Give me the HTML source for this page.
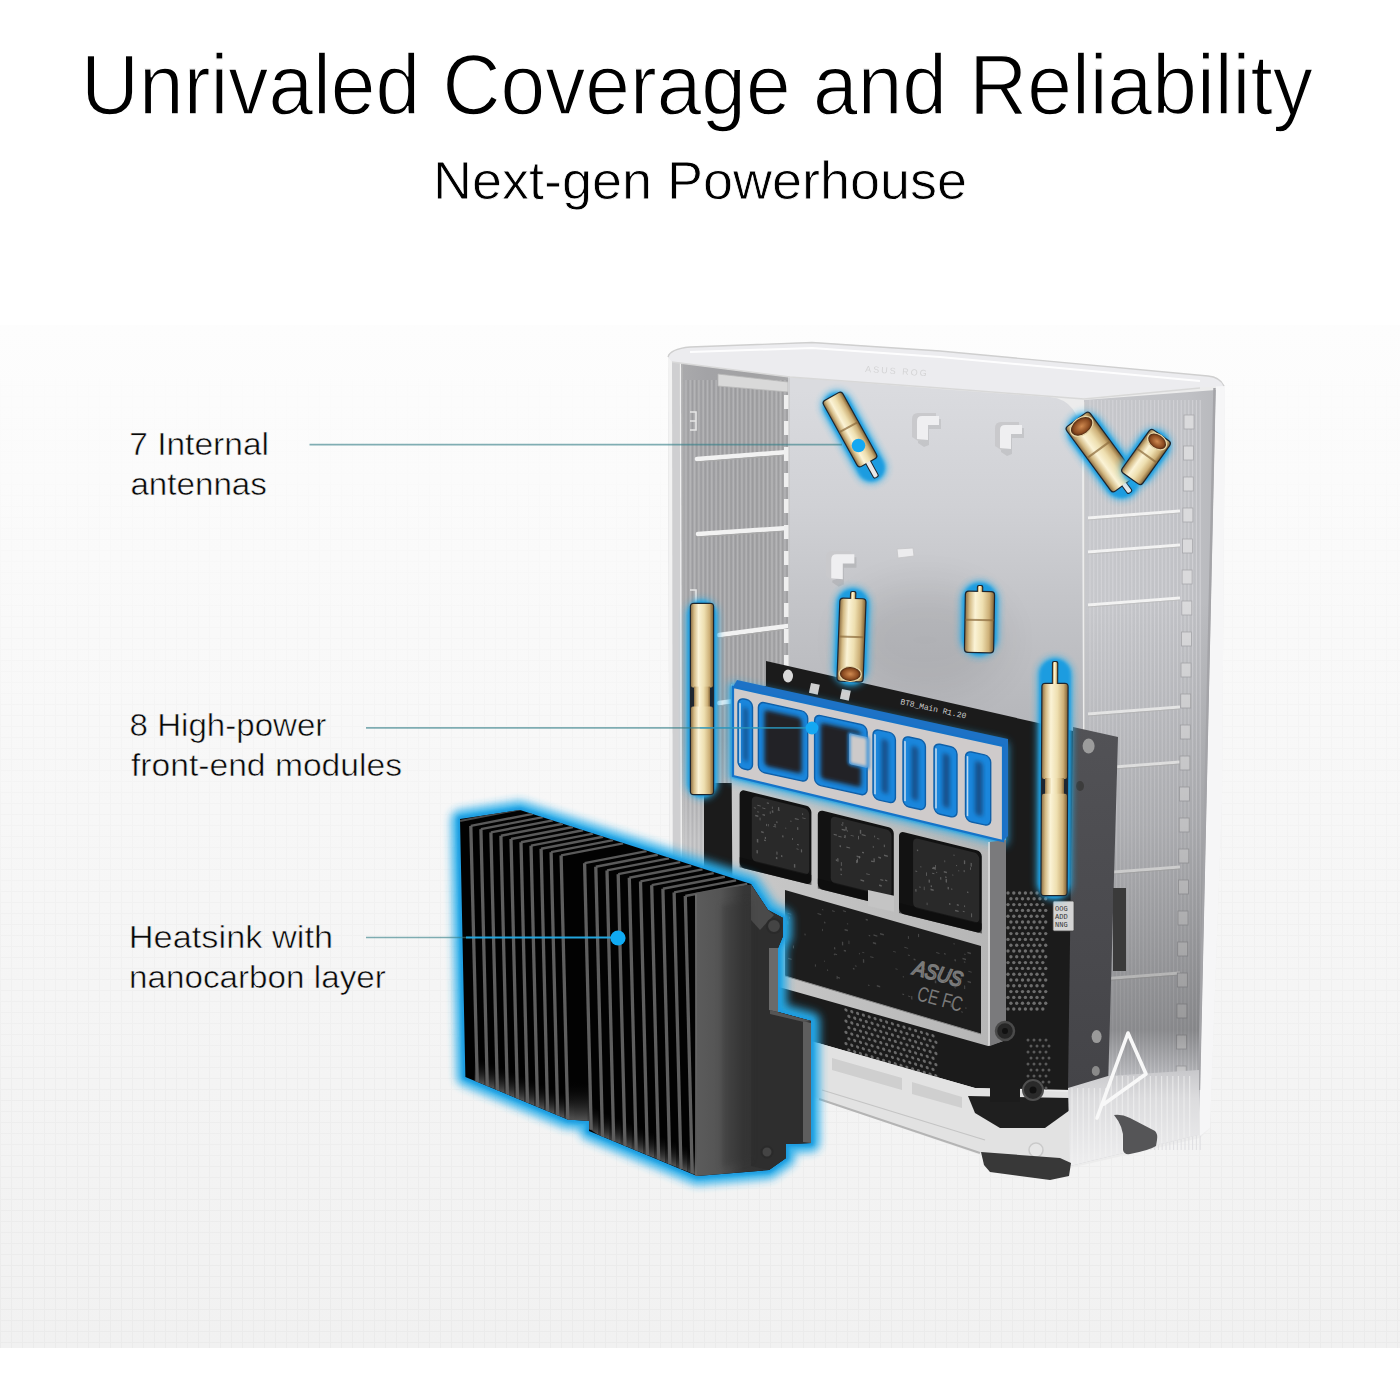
<!DOCTYPE html>
<html><head><meta charset="utf-8"><title>Unrivaled Coverage and Reliability</title>
<style>html,body{margin:0;padding:0;background:#fff;}body{width:1400px;height:1400px;overflow:hidden;}svg{display:block;}</style>
</head><body>
<svg width="1400" height="1400" viewBox="0 0 1400 1400">

<defs>
 <linearGradient id="bgG" x1="0" y1="0" x2="0" y2="1">
  <stop offset="0" stop-color="#fdfdfd"/>
  <stop offset="0.3" stop-color="#f9f9f9"/>
  <stop offset="1" stop-color="#f1f1f1"/>
 </linearGradient>
 <pattern id="grid" width="11" height="11" patternUnits="userSpaceOnUse">
  <path d="M0 0.5H11M0.5 0V11" stroke="#dcdcdc" stroke-width="1" fill="none"/>
 </pattern>
 <linearGradient id="gridFade" x1="0" y1="0" x2="0" y2="1">
  <stop offset="0" stop-color="#fff" stop-opacity="0"/>
  <stop offset="0.3" stop-color="#fff" stop-opacity="0.08"/>
  <stop offset="1" stop-color="#fff" stop-opacity="0.3"/>
 </linearGradient>
 <mask id="gridMask"><rect x="0" y="325" width="1400" height="1023" fill="url(#gridFade)"/></mask>
 <linearGradient id="gold" x1="0" y1="0" x2="1" y2="0">
  <stop offset="0" stop-color="#94764a"/>
  <stop offset="0.14" stop-color="#d4bb86"/>
  <stop offset="0.34" stop-color="#fbf3d6"/>
  <stop offset="0.6" stop-color="#eedfb0"/>
  <stop offset="0.84" stop-color="#cdb078"/>
  <stop offset="1" stop-color="#86683a"/>
 </linearGradient>
 <radialGradient id="copper" cx="0.5" cy="0.5" r="0.5">
  <stop offset="0" stop-color="#d08a50"/>
  <stop offset="0.7" stop-color="#8a4a20"/>
  <stop offset="1" stop-color="#3a2010"/>
 </radialGradient>
 <linearGradient id="leftWall" x1="0" y1="0" x2="1" y2="0">
  <stop offset="0" stop-color="#acacae"/>
  <stop offset="0.3" stop-color="#a3a3a6"/>
  <stop offset="0.7" stop-color="#a2a2a4"/>
  <stop offset="1" stop-color="#a8a8aa"/>
 </linearGradient>
 <linearGradient id="backPanel" gradientUnits="userSpaceOnUse" x1="0" y1="390" x2="0" y2="720">
  <stop offset="0" stop-color="#dadbdf"/>
  <stop offset="0.35" stop-color="#d0d1d5"/>
  <stop offset="0.7" stop-color="#c1c2c6"/>
  <stop offset="1" stop-color="#b6b7bb"/>
 </linearGradient>
 <linearGradient id="rightWall" x1="0" y1="0" x2="1" y2="0">
  <stop offset="0" stop-color="#c8c9cd"/>
  <stop offset="0.8" stop-color="#c0c1c5"/>
  <stop offset="1" stop-color="#b8b9bd"/>
 </linearGradient>
 <linearGradient id="plate" x1="0" y1="0" x2="1" y2="0">
  <stop offset="0" stop-color="#5c5c5c"/>
  <stop offset="0.22" stop-color="#545454"/>
  <stop offset="0.42" stop-color="#363636"/>
  <stop offset="1" stop-color="#2c2c2c"/>
 </linearGradient>
 <linearGradient id="darkBoard" x1="0" y1="0" x2="0" y2="1">
  <stop offset="0" stop-color="#525256"/>
  <stop offset="1" stop-color="#444448"/>
 </linearGradient>
 <linearGradient id="frameG" x1="0" y1="0" x2="1" y2="0">
  <stop offset="0" stop-color="#c9c9c9"/>
  <stop offset="1" stop-color="#b5b5b5"/>
 </linearGradient>
 <linearGradient id="baseG" x1="0" y1="0" x2="0" y2="1">
  <stop offset="0" stop-color="#dadada"/>
  <stop offset="1" stop-color="#eeeeee"/>
 </linearGradient>
 <filter id="glow" x="-30%" y="-30%" width="160%" height="160%">
  <feGaussianBlur stdDeviation="4.5"/>
 </filter>
 <filter id="glowA" x="-40%" y="-40%" width="180%" height="180%">
  <feGaussianBlur stdDeviation="3.5"/>
 </filter>
 <filter id="glowS" x="-30%" y="-30%" width="160%" height="160%">
  <feGaussianBlur stdDeviation="1.6"/>
 </filter>
 <filter id="inner" x="-30%" y="-30%" width="160%" height="160%">
  <feGaussianBlur stdDeviation="3"/>
 </filter>
 <filter id="inner2" x="-40%" y="-40%" width="180%" height="180%">
  <feGaussianBlur stdDeviation="2.2"/>
 </filter>
 <linearGradient id="finBot" x1="0" y1="0" x2="0" y2="1">
  <stop offset="0" stop-color="#000" stop-opacity="0"/>
  <stop offset="1" stop-color="#5a5a5a" stop-opacity="1"/>
 </linearGradient>
 <filter id="soft2" x="-50%" y="-50%" width="200%" height="200%">
  <feGaussianBlur stdDeviation="20"/>
 </filter>
 <linearGradient id="rwShade" gradientUnits="userSpaceOnUse" x1="0" y1="600" x2="0" y2="1100">
  <stop offset="0" stop-color="#000" stop-opacity="0"/>
  <stop offset="0.45" stop-color="#000" stop-opacity="0.12"/>
  <stop offset="0.86" stop-color="#000" stop-opacity="0.3"/>
  <stop offset="0.96" stop-color="#000" stop-opacity="0.05"/>
  <stop offset="1" stop-color="#000" stop-opacity="0"/>
 </linearGradient>
 <linearGradient id="rbBase" gradientUnits="userSpaceOnUse" x1="0" y1="1070" x2="0" y2="1165">
  <stop offset="0" stop-color="#c8c8cb"/>
  <stop offset="0.3" stop-color="#dcdcde"/>
  <stop offset="1" stop-color="#eeeeef"/>
 </linearGradient>
 <linearGradient id="lwShade" gradientUnits="userSpaceOnUse" x1="0" y1="740" x2="0" y2="840">
  <stop offset="0" stop-color="#fff" stop-opacity="0"/>
  <stop offset="1" stop-color="#fff" stop-opacity="0.3"/>
 </linearGradient>
 <filter id="b1" x="-10%" y="-10%" width="120%" height="120%">
  <feGaussianBlur stdDeviation="0.8"/>
 </filter>
</defs>

<rect x="0" y="0" width="1400" height="1400" fill="#ffffff"/>
<rect x="0" y="325" width="1400" height="1023" fill="url(#bgG)"/>
<rect x="0" y="325" width="1400" height="1023" fill="url(#grid)" mask="url(#gridMask)"/>
<text x="81" y="114.4" font-family="Liberation Sans, sans-serif" font-size="85.8" fill="#000" stroke="#fff" stroke-width="1.4" textLength="1231.9" lengthAdjust="spacingAndGlyphs">Unrivaled Coverage and Reliability</text>
<text x="433" y="198.7" font-family="Liberation Sans, sans-serif" font-size="54.2" fill="#000" stroke="#fff" stroke-width="0.8" textLength="534.1" lengthAdjust="spacingAndGlyphs">Next-gen Powerhouse</text>
<text x="129.2" y="455" font-family="Liberation Sans, sans-serif" font-size="32" fill="#080808" stroke="#f7f7f7" stroke-width="0.55" textLength="139.8" lengthAdjust="spacingAndGlyphs">7 Internal</text>
<text x="130.4" y="495" font-family="Liberation Sans, sans-serif" font-size="32" fill="#080808" stroke="#f7f7f7" stroke-width="0.55" textLength="136.5" lengthAdjust="spacingAndGlyphs">antennas</text>
<text x="129.6" y="735.7" font-family="Liberation Sans, sans-serif" font-size="32" fill="#080808" stroke="#f7f7f7" stroke-width="0.55" textLength="196.8" lengthAdjust="spacingAndGlyphs">8 High-power</text>
<text x="131.0" y="775.7" font-family="Liberation Sans, sans-serif" font-size="32" fill="#080808" stroke="#f7f7f7" stroke-width="0.55" textLength="271.0" lengthAdjust="spacingAndGlyphs">front-end modules</text>
<text x="128.8" y="948" font-family="Liberation Sans, sans-serif" font-size="32" fill="#080808" stroke="#f7f7f7" stroke-width="0.55" textLength="204.3" lengthAdjust="spacingAndGlyphs">Heatsink with</text>
<text x="129" y="987.8" font-family="Liberation Sans, sans-serif" font-size="32" fill="#080808" stroke="#f7f7f7" stroke-width="0.55" textLength="256.8" lengthAdjust="spacingAndGlyphs">nanocarbon layer</text>
<polygon points="668.0,354.0 700.0,347.0 812.0,342.0 940.0,351.0 1216.0,378.0 1225.0,386.0 1222.0,800.0 1210.0,1128.0 1200.0,1138.0 1070.0,1168.0 980.0,1155.0 820.0,1100.0 672.0,1060.0" fill="#ececec" />
<polygon points="672.0,362.0 790.0,377.0 790.0,1075.0 672.0,1050.0" fill="url(#leftWall)" />
<line x1="686.0" y1="380" x2="686.0" y2="1050" stroke="#b8b8ba" stroke-width="1.4" opacity="0.8"/>
<line x1="688.1" y1="380" x2="688.1" y2="1050" stroke="#929294" stroke-width="0.8" opacity="0.6"/>
<line x1="690.3" y1="380" x2="690.3" y2="1050" stroke="#b8b8ba" stroke-width="1.4" opacity="0.8"/>
<line x1="692.4" y1="380" x2="692.4" y2="1050" stroke="#929294" stroke-width="0.8" opacity="0.6"/>
<line x1="694.6" y1="380" x2="694.6" y2="1050" stroke="#b8b8ba" stroke-width="1.4" opacity="0.8"/>
<line x1="696.7" y1="380" x2="696.7" y2="1050" stroke="#929294" stroke-width="0.8" opacity="0.6"/>
<line x1="698.9" y1="380" x2="698.9" y2="1050" stroke="#b8b8ba" stroke-width="1.4" opacity="0.8"/>
<line x1="701.0" y1="380" x2="701.0" y2="1050" stroke="#929294" stroke-width="0.8" opacity="0.6"/>
<line x1="703.2" y1="380" x2="703.2" y2="1050" stroke="#b8b8ba" stroke-width="1.4" opacity="0.8"/>
<line x1="705.3" y1="380" x2="705.3" y2="1050" stroke="#929294" stroke-width="0.8" opacity="0.6"/>
<line x1="707.5" y1="380" x2="707.5" y2="1050" stroke="#b8b8ba" stroke-width="1.4" opacity="0.8"/>
<line x1="709.6" y1="380" x2="709.6" y2="1050" stroke="#929294" stroke-width="0.8" opacity="0.6"/>
<line x1="711.8" y1="380" x2="711.8" y2="1050" stroke="#b8b8ba" stroke-width="1.4" opacity="0.8"/>
<line x1="713.9" y1="380" x2="713.9" y2="1050" stroke="#929294" stroke-width="0.8" opacity="0.6"/>
<line x1="716.1" y1="380" x2="716.1" y2="1050" stroke="#b8b8ba" stroke-width="1.4" opacity="0.8"/>
<line x1="718.2" y1="380" x2="718.2" y2="1050" stroke="#929294" stroke-width="0.8" opacity="0.6"/>
<line x1="720.4" y1="380" x2="720.4" y2="1050" stroke="#b8b8ba" stroke-width="1.4" opacity="0.8"/>
<line x1="722.5" y1="380" x2="722.5" y2="1050" stroke="#929294" stroke-width="0.8" opacity="0.6"/>
<line x1="724.7" y1="380" x2="724.7" y2="1050" stroke="#b8b8ba" stroke-width="1.4" opacity="0.8"/>
<line x1="726.8" y1="380" x2="726.8" y2="1050" stroke="#929294" stroke-width="0.8" opacity="0.6"/>
<line x1="729.0" y1="380" x2="729.0" y2="1050" stroke="#b8b8ba" stroke-width="1.4" opacity="0.8"/>
<line x1="731.1" y1="380" x2="731.1" y2="1050" stroke="#929294" stroke-width="0.8" opacity="0.6"/>
<line x1="733.3" y1="380" x2="733.3" y2="1050" stroke="#b8b8ba" stroke-width="1.4" opacity="0.8"/>
<line x1="735.4" y1="380" x2="735.4" y2="1050" stroke="#929294" stroke-width="0.8" opacity="0.6"/>
<line x1="737.6" y1="380" x2="737.6" y2="1050" stroke="#b8b8ba" stroke-width="1.4" opacity="0.8"/>
<line x1="739.7" y1="380" x2="739.7" y2="1050" stroke="#929294" stroke-width="0.8" opacity="0.6"/>
<line x1="741.9" y1="380" x2="741.9" y2="1050" stroke="#b8b8ba" stroke-width="1.4" opacity="0.8"/>
<line x1="744.0" y1="380" x2="744.0" y2="1050" stroke="#929294" stroke-width="0.8" opacity="0.6"/>
<line x1="746.2" y1="380" x2="746.2" y2="1050" stroke="#b8b8ba" stroke-width="1.4" opacity="0.8"/>
<line x1="748.3" y1="380" x2="748.3" y2="1050" stroke="#929294" stroke-width="0.8" opacity="0.6"/>
<line x1="750.5" y1="380" x2="750.5" y2="1050" stroke="#b8b8ba" stroke-width="1.4" opacity="0.8"/>
<line x1="752.6" y1="380" x2="752.6" y2="1050" stroke="#929294" stroke-width="0.8" opacity="0.6"/>
<line x1="754.8" y1="380" x2="754.8" y2="1050" stroke="#b8b8ba" stroke-width="1.4" opacity="0.8"/>
<line x1="756.9" y1="380" x2="756.9" y2="1050" stroke="#929294" stroke-width="0.8" opacity="0.6"/>
<line x1="759.1" y1="380" x2="759.1" y2="1050" stroke="#b8b8ba" stroke-width="1.4" opacity="0.8"/>
<line x1="761.2" y1="380" x2="761.2" y2="1050" stroke="#929294" stroke-width="0.8" opacity="0.6"/>
<line x1="763.4" y1="380" x2="763.4" y2="1050" stroke="#b8b8ba" stroke-width="1.4" opacity="0.8"/>
<line x1="765.5" y1="380" x2="765.5" y2="1050" stroke="#929294" stroke-width="0.8" opacity="0.6"/>
<line x1="767.7" y1="380" x2="767.7" y2="1050" stroke="#b8b8ba" stroke-width="1.4" opacity="0.8"/>
<line x1="769.8" y1="380" x2="769.8" y2="1050" stroke="#929294" stroke-width="0.8" opacity="0.6"/>
<line x1="772.0" y1="380" x2="772.0" y2="1050" stroke="#b8b8ba" stroke-width="1.4" opacity="0.8"/>
<line x1="774.1" y1="380" x2="774.1" y2="1050" stroke="#929294" stroke-width="0.8" opacity="0.6"/>
<line x1="776.3" y1="380" x2="776.3" y2="1050" stroke="#b8b8ba" stroke-width="1.4" opacity="0.8"/>
<line x1="778.4" y1="380" x2="778.4" y2="1050" stroke="#929294" stroke-width="0.8" opacity="0.6"/>
<line x1="780.6" y1="380" x2="780.6" y2="1050" stroke="#b8b8ba" stroke-width="1.4" opacity="0.8"/>
<line x1="782.7" y1="380" x2="782.7" y2="1050" stroke="#929294" stroke-width="0.8" opacity="0.6"/>
<line x1="784.9" y1="380" x2="784.9" y2="1050" stroke="#b8b8ba" stroke-width="1.4" opacity="0.8"/>
<line x1="787.0" y1="380" x2="787.0" y2="1050" stroke="#929294" stroke-width="0.8" opacity="0.6"/>
<line x1="789.2" y1="380" x2="789.2" y2="1050" stroke="#b8b8ba" stroke-width="1.4" opacity="0.8"/>
<line x1="791.3" y1="380" x2="791.3" y2="1050" stroke="#929294" stroke-width="0.8" opacity="0.6"/>
<polygon points="668.0,356.0 681.0,360.0 682.0,1055.0 670.0,1052.0" fill="#cfcfd1" />
<polygon points="668.0,356.0 672.0,357.0 673.0,1052.0 670.0,1052.0" fill="#f2f2f2" />
<line x1="680.5" y1="362" x2="681.5" y2="1055" stroke="#f0f0f0" stroke-width="1.3"/>
<line x1="682.5" y1="362" x2="683.5" y2="1055" stroke="#b4b4b4" stroke-width="0.8"/>
<polygon points="718.0,374.0 788.0,382.0 788.0,392.0 718.0,386.0" fill="#d9d9d9"  stroke="#b8b8b8" stroke-width="0.8"/>
<path d="M690,412 h6 v18 h-6 M690,421 h6" fill="none" stroke="#e6e6e6" stroke-width="1.6"/>
<path d="M690,590 h6 v16" fill="none" stroke="#e6e6e6" stroke-width="1.6"/>
<polygon points="681.0,740.0 790.0,740.0 790.0,1075.0 681.0,1052.0" fill="url(#lwShade)" />
<line x1="697" y1="459" x2="788" y2="452" stroke="#f2f2f2" stroke-width="4.5" stroke-linecap="round"/>
<line x1="697" y1="462" x2="788" y2="455" stroke="#a8a8a8" stroke-width="1.1"/>
<line x1="698" y1="534" x2="788" y2="528" stroke="#f2f2f2" stroke-width="4.5" stroke-linecap="round"/>
<line x1="698" y1="537" x2="788" y2="531" stroke="#a8a8a8" stroke-width="1.1"/>
<line x1="719" y1="635" x2="788" y2="626" stroke="#f2f2f2" stroke-width="4.5" stroke-linecap="round"/>
<line x1="719" y1="638" x2="788" y2="629" stroke="#a8a8a8" stroke-width="1.1"/>
<line x1="719" y1="703" x2="788" y2="694" stroke="#f2f2f2" stroke-width="4.5" stroke-linecap="round"/>
<line x1="719" y1="706" x2="788" y2="697" stroke="#a8a8a8" stroke-width="1.1"/>
<path d="M788,377 L940,389 L1050,397 Q1080,400 1082,440 L1084,1020 L788,1020 Z" fill="url(#backPanel)"/>
<ellipse cx="925" cy="640" rx="80" ry="55" fill="#000" opacity="0.07" filter="url(#soft2)"/>
<rect x="784" y="395" width="5" height="14" fill="#efefef"/>
<rect x="784" y="421" width="5" height="14" fill="#efefef"/>
<rect x="784" y="447" width="5" height="14" fill="#efefef"/>
<rect x="784" y="473" width="5" height="14" fill="#efefef"/>
<rect x="784" y="499" width="5" height="14" fill="#efefef"/>
<rect x="784" y="525" width="5" height="14" fill="#efefef"/>
<rect x="784" y="551" width="5" height="14" fill="#efefef"/>
<rect x="784" y="577" width="5" height="14" fill="#efefef"/>
<rect x="784" y="603" width="5" height="14" fill="#efefef"/>
<rect x="784" y="629" width="5" height="14" fill="#efefef"/>
<rect x="784" y="655" width="5" height="14" fill="#efefef"/>
<rect x="784" y="681" width="5" height="14" fill="#efefef"/>
<rect x="784" y="707" width="5" height="14" fill="#efefef"/>
<rect x="784" y="733" width="5" height="14" fill="#efefef"/>
<rect x="784" y="759" width="5" height="14" fill="#efefef"/>
<rect x="784" y="785" width="5" height="14" fill="#efefef"/>
<rect x="784" y="811" width="5" height="14" fill="#efefef"/>
<line x1="789" y1="378" x2="789" y2="1000" stroke="#c4c4c4" stroke-width="1"/>
<polygon points="1084.0,400.0 1216.0,390.0 1200.0,1090.0 1198.0,1135.0 1070.0,1166.0 1084.0,1150.0" fill="url(#rightWall)" />
<line x1="1090.0" y1="400" x2="1090.0" y2="1150" stroke="#d8d8dc" stroke-width="1.1" opacity="0.7"/>
<line x1="1093.8" y1="400" x2="1093.8" y2="1150" stroke="#d8d8dc" stroke-width="1.1" opacity="0.7"/>
<line x1="1097.6" y1="400" x2="1097.6" y2="1150" stroke="#d8d8dc" stroke-width="1.1" opacity="0.7"/>
<line x1="1101.4" y1="400" x2="1101.4" y2="1150" stroke="#d8d8dc" stroke-width="1.1" opacity="0.7"/>
<line x1="1105.2" y1="400" x2="1105.2" y2="1150" stroke="#d8d8dc" stroke-width="1.1" opacity="0.7"/>
<line x1="1109.0" y1="400" x2="1109.0" y2="1150" stroke="#d8d8dc" stroke-width="1.1" opacity="0.7"/>
<line x1="1112.8" y1="400" x2="1112.8" y2="1150" stroke="#d8d8dc" stroke-width="1.1" opacity="0.7"/>
<line x1="1116.6" y1="400" x2="1116.6" y2="1150" stroke="#d8d8dc" stroke-width="1.1" opacity="0.7"/>
<line x1="1120.4" y1="400" x2="1120.4" y2="1150" stroke="#d8d8dc" stroke-width="1.1" opacity="0.7"/>
<line x1="1124.2" y1="400" x2="1124.2" y2="1150" stroke="#d8d8dc" stroke-width="1.1" opacity="0.7"/>
<line x1="1128.0" y1="400" x2="1128.0" y2="1150" stroke="#d8d8dc" stroke-width="1.1" opacity="0.7"/>
<line x1="1131.8" y1="400" x2="1131.8" y2="1150" stroke="#d8d8dc" stroke-width="1.1" opacity="0.7"/>
<line x1="1135.6" y1="400" x2="1135.6" y2="1150" stroke="#d8d8dc" stroke-width="1.1" opacity="0.7"/>
<line x1="1139.4" y1="400" x2="1139.4" y2="1150" stroke="#d8d8dc" stroke-width="1.1" opacity="0.7"/>
<line x1="1143.2" y1="400" x2="1143.2" y2="1150" stroke="#d8d8dc" stroke-width="1.1" opacity="0.7"/>
<line x1="1147.0" y1="400" x2="1147.0" y2="1150" stroke="#d8d8dc" stroke-width="1.1" opacity="0.7"/>
<line x1="1150.8" y1="400" x2="1150.8" y2="1150" stroke="#d8d8dc" stroke-width="1.1" opacity="0.7"/>
<line x1="1154.6" y1="400" x2="1154.6" y2="1150" stroke="#d8d8dc" stroke-width="1.1" opacity="0.7"/>
<line x1="1158.4" y1="400" x2="1158.4" y2="1150" stroke="#d8d8dc" stroke-width="1.1" opacity="0.7"/>
<line x1="1162.2" y1="400" x2="1162.2" y2="1150" stroke="#d8d8dc" stroke-width="1.1" opacity="0.7"/>
<line x1="1166.0" y1="400" x2="1166.0" y2="1150" stroke="#d8d8dc" stroke-width="1.1" opacity="0.7"/>
<line x1="1169.8" y1="400" x2="1169.8" y2="1150" stroke="#d8d8dc" stroke-width="1.1" opacity="0.7"/>
<line x1="1173.6" y1="400" x2="1173.6" y2="1150" stroke="#d8d8dc" stroke-width="1.1" opacity="0.7"/>
<line x1="1177.4" y1="400" x2="1177.4" y2="1150" stroke="#d8d8dc" stroke-width="1.1" opacity="0.7"/>
<line x1="1181.2" y1="400" x2="1181.2" y2="1150" stroke="#d8d8dc" stroke-width="1.1" opacity="0.7"/>
<line x1="1185.0" y1="400" x2="1185.0" y2="1150" stroke="#d8d8dc" stroke-width="1.1" opacity="0.7"/>
<line x1="1188.8" y1="400" x2="1188.8" y2="1150" stroke="#d8d8dc" stroke-width="1.1" opacity="0.7"/>
<line x1="1192.6" y1="400" x2="1192.6" y2="1150" stroke="#d8d8dc" stroke-width="1.1" opacity="0.7"/>
<line x1="1196.4" y1="400" x2="1196.4" y2="1150" stroke="#d8d8dc" stroke-width="1.1" opacity="0.7"/>
<line x1="1200.2" y1="400" x2="1200.2" y2="1150" stroke="#d8d8dc" stroke-width="1.1" opacity="0.7"/>
<line x1="1088" y1="518" x2="1180" y2="511" stroke="#f2f2f2" stroke-width="3"/>
<line x1="1088" y1="520" x2="1180" y2="513" stroke="#bdbdbd" stroke-width="0.8"/>
<line x1="1088" y1="552" x2="1180" y2="545" stroke="#f2f2f2" stroke-width="3"/>
<line x1="1088" y1="554" x2="1180" y2="547" stroke="#bdbdbd" stroke-width="0.8"/>
<line x1="1088" y1="605" x2="1180" y2="598" stroke="#f2f2f2" stroke-width="3"/>
<line x1="1088" y1="607" x2="1180" y2="600" stroke="#bdbdbd" stroke-width="0.8"/>
<line x1="1088" y1="714" x2="1180" y2="707" stroke="#f2f2f2" stroke-width="3"/>
<line x1="1088" y1="716" x2="1180" y2="709" stroke="#bdbdbd" stroke-width="0.8"/>
<line x1="1088" y1="769" x2="1180" y2="762" stroke="#f2f2f2" stroke-width="3"/>
<line x1="1088" y1="771" x2="1180" y2="764" stroke="#bdbdbd" stroke-width="0.8"/>
<line x1="1088" y1="874" x2="1180" y2="867" stroke="#f2f2f2" stroke-width="3"/>
<line x1="1088" y1="876" x2="1180" y2="869" stroke="#bdbdbd" stroke-width="0.8"/>
<line x1="1088" y1="980" x2="1180" y2="973" stroke="#f2f2f2" stroke-width="3"/>
<line x1="1088" y1="982" x2="1180" y2="975" stroke="#bdbdbd" stroke-width="0.8"/>
<rect x="1184.0" y="415" width="10" height="14" fill="#dadadc" stroke="#a8a8ac" stroke-width="0.8"/>
<rect x="1183.6" y="446" width="10" height="14" fill="#dadadc" stroke="#a8a8ac" stroke-width="0.8"/>
<rect x="1183.3" y="477" width="10" height="14" fill="#dadadc" stroke="#a8a8ac" stroke-width="0.8"/>
<rect x="1182.9" y="508" width="10" height="14" fill="#dadadc" stroke="#a8a8ac" stroke-width="0.8"/>
<rect x="1182.5" y="539" width="10" height="14" fill="#dadadc" stroke="#a8a8ac" stroke-width="0.8"/>
<rect x="1182.1" y="570" width="10" height="14" fill="#dadadc" stroke="#a8a8ac" stroke-width="0.8"/>
<rect x="1181.8" y="601" width="10" height="14" fill="#dadadc" stroke="#a8a8ac" stroke-width="0.8"/>
<rect x="1181.4" y="632" width="10" height="14" fill="#dadadc" stroke="#a8a8ac" stroke-width="0.8"/>
<rect x="1181.0" y="663" width="10" height="14" fill="#dadadc" stroke="#a8a8ac" stroke-width="0.8"/>
<rect x="1180.7" y="694" width="10" height="14" fill="#dadadc" stroke="#a8a8ac" stroke-width="0.8"/>
<rect x="1180.3" y="725" width="10" height="14" fill="#dadadc" stroke="#a8a8ac" stroke-width="0.8"/>
<rect x="1179.9" y="756" width="10" height="14" fill="#dadadc" stroke="#a8a8ac" stroke-width="0.8"/>
<rect x="1179.5" y="787" width="10" height="14" fill="#dadadc" stroke="#a8a8ac" stroke-width="0.8"/>
<rect x="1179.2" y="818" width="10" height="14" fill="#dadadc" stroke="#a8a8ac" stroke-width="0.8"/>
<rect x="1178.8" y="849" width="10" height="14" fill="#dadadc" stroke="#a8a8ac" stroke-width="0.8"/>
<rect x="1178.4" y="880" width="10" height="14" fill="#dadadc" stroke="#a8a8ac" stroke-width="0.8"/>
<rect x="1178.0" y="911" width="10" height="14" fill="#dadadc" stroke="#a8a8ac" stroke-width="0.8"/>
<rect x="1177.7" y="942" width="10" height="14" fill="#dadadc" stroke="#a8a8ac" stroke-width="0.8"/>
<rect x="1177.3" y="973" width="10" height="14" fill="#dadadc" stroke="#a8a8ac" stroke-width="0.8"/>
<rect x="1176.9" y="1004" width="10" height="14" fill="#dadadc" stroke="#a8a8ac" stroke-width="0.8"/>
<rect x="1176.6" y="1035" width="10" height="14" fill="#dadadc" stroke="#a8a8ac" stroke-width="0.8"/>
<rect x="1176.2" y="1066" width="10" height="14" fill="#dadadc" stroke="#a8a8ac" stroke-width="0.8"/>
<polygon points="1084.0,400.0 1216.0,390.0 1200.0,1090.0 1198.0,1135.0 1070.0,1166.0 1084.0,1150.0" fill="url(#rwShade)" />
<line x1="1084.5" y1="402" x2="1084.5" y2="1000" stroke="#cfcfcf" stroke-width="1"/>
<polygon points="1216.0,386.0 1225.0,386.0 1222.0,800.0 1210.0,1128.0 1200.0,1136.0 1200.0,1090.0" fill="#f6f6f7" />
<line x1="1214.5" y1="388" x2="1199" y2="1090" stroke="#a4a4a8" stroke-width="2.4"/>
<path d="M668,357 Q670,349 690,347 L812,342.5 L940,351 L1208,376 Q1220,377 1224,386 L1190,388 L1084,398 L940,388 L790,377 L672,362 Z" fill="#ececef"/>
<path d="M668,357 Q670,349 690,347 L812,342.5 L940,351 L1208,376 Q1220,377 1224,386" fill="none" stroke="#cfcfcf" stroke-width="1.3"/>
<path d="M690,352 L812,348 L940,357 L1200,381" fill="none" stroke="#ffffff" stroke-width="2" opacity="0.9"/>
<polyline points="672,362 790,377 940,388 1084,399 1200,388" fill="none" stroke="#d8d8d8" stroke-width="1.5"/>
<text x="865" y="372" font-family="Liberation Sans, sans-serif" font-size="9" fill="#c4c4c4" opacity="0.6" transform="rotate(4 865 372)" letter-spacing="2">ASUS ROG</text>
<g transform="translate(912,413) scale(1.0)"><path d="M3,26 L3,8 Q3,2 9,2 L26,2 L26,12 L14,12 L14,28 L9,30 Z" fill="#000" opacity="0.08" transform="translate(3,4)"/><path d="M0,24 L0,6 Q0,0 6,0 L24,0 L24,10 L12,10 L12,26 L6,28 Z" fill="#c9c9cc"/><path d="M5,26 L5,8 Q5,3 10,3 L27,3 L27,12 L16,12 L16,27 Z" fill="#efeff1"/></g>
<g transform="translate(995,422) scale(1.0)"><path d="M3,26 L3,8 Q3,2 9,2 L26,2 L26,12 L14,12 L14,28 L9,30 Z" fill="#000" opacity="0.08" transform="translate(3,4)"/><path d="M0,24 L0,6 Q0,0 6,0 L24,0 L24,10 L12,10 L12,26 L6,28 Z" fill="#c9c9cc"/><path d="M5,26 L5,8 Q5,3 10,3 L27,3 L27,12 L16,12 L16,27 Z" fill="#efeff1"/></g>
<g transform="translate(826,551) scale(1.05)"><path d="M3,26 L3,8 Q3,2 9,2 L26,2 L26,12 L14,12 L14,28 L9,30 Z" fill="#000" opacity="0.08" transform="translate(3,4)"/><path d="M0,24 L0,6 Q0,0 6,0 L24,0 L24,10 L12,10 L12,26 L6,28 Z" fill="#c9c9cc"/><path d="M5,26 L5,8 Q5,3 10,3 L27,3 L27,12 L16,12 L16,27 Z" fill="#efeff1"/></g>
<path d="M897,549 L913,548 L914,556 L898,558 Z" fill="#ececee" stroke="#c4c4c6" stroke-width="0.8"/>
<polygon points="766.0,661.0 1034.0,722.0 1073.0,731.0 1073.0,1090.0 975.0,1088.0 818.0,1043.0 704.0,1010.0 704.0,783.0 733.0,783.0 733.0,686.0 766.0,686.0" fill="#1b1b1b" />
<text x="900" y="704" font-family="Liberation Mono, monospace" font-size="8" fill="#cfcfcf" transform="rotate(12.5 900 704)">BT8_Main  R1.20</text>
<ellipse cx="788" cy="676" rx="5" ry="6.5" fill="#d8d8d8"/>
<rect x="811" y="683" width="9" height="10" fill="#cfcfcf" transform="rotate(12 811 683)"/>
<rect x="842" y="689" width="9" height="10" fill="#cfcfcf" transform="rotate(12 842 689)"/>
<circle cx="1008.0" cy="893.0" r="1.7" fill="#6e6e6e"/>
<circle cx="1013.8" cy="893.0" r="1.7" fill="#6e6e6e"/>
<circle cx="1019.6" cy="893.0" r="1.7" fill="#6e6e6e"/>
<circle cx="1025.4" cy="893.0" r="1.7" fill="#6e6e6e"/>
<circle cx="1031.2" cy="893.0" r="1.7" fill="#6e6e6e"/>
<circle cx="1037.0" cy="893.0" r="1.7" fill="#6e6e6e"/>
<circle cx="1042.8" cy="893.0" r="1.7" fill="#6e6e6e"/>
<circle cx="1010.9" cy="898.8" r="1.7" fill="#6e6e6e"/>
<circle cx="1016.7" cy="898.8" r="1.7" fill="#6e6e6e"/>
<circle cx="1022.5" cy="898.8" r="1.7" fill="#6e6e6e"/>
<circle cx="1028.3" cy="898.8" r="1.7" fill="#6e6e6e"/>
<circle cx="1034.1" cy="898.8" r="1.7" fill="#6e6e6e"/>
<circle cx="1039.9" cy="898.8" r="1.7" fill="#6e6e6e"/>
<circle cx="1045.7" cy="898.8" r="1.7" fill="#6e6e6e"/>
<circle cx="1008.0" cy="904.6" r="1.7" fill="#6e6e6e"/>
<circle cx="1013.8" cy="904.6" r="1.7" fill="#6e6e6e"/>
<circle cx="1019.6" cy="904.6" r="1.7" fill="#6e6e6e"/>
<circle cx="1025.4" cy="904.6" r="1.7" fill="#6e6e6e"/>
<circle cx="1031.2" cy="904.6" r="1.7" fill="#6e6e6e"/>
<circle cx="1037.0" cy="904.6" r="1.7" fill="#6e6e6e"/>
<circle cx="1042.8" cy="904.6" r="1.7" fill="#6e6e6e"/>
<circle cx="1010.9" cy="910.4" r="1.7" fill="#6e6e6e"/>
<circle cx="1016.7" cy="910.4" r="1.7" fill="#6e6e6e"/>
<circle cx="1022.5" cy="910.4" r="1.7" fill="#6e6e6e"/>
<circle cx="1028.3" cy="910.4" r="1.7" fill="#6e6e6e"/>
<circle cx="1034.1" cy="910.4" r="1.7" fill="#6e6e6e"/>
<circle cx="1039.9" cy="910.4" r="1.7" fill="#6e6e6e"/>
<circle cx="1045.7" cy="910.4" r="1.7" fill="#6e6e6e"/>
<circle cx="1008.0" cy="916.2" r="1.7" fill="#6e6e6e"/>
<circle cx="1013.8" cy="916.2" r="1.7" fill="#6e6e6e"/>
<circle cx="1019.6" cy="916.2" r="1.7" fill="#6e6e6e"/>
<circle cx="1025.4" cy="916.2" r="1.7" fill="#6e6e6e"/>
<circle cx="1031.2" cy="916.2" r="1.7" fill="#6e6e6e"/>
<circle cx="1037.0" cy="916.2" r="1.7" fill="#6e6e6e"/>
<circle cx="1042.8" cy="916.2" r="1.7" fill="#6e6e6e"/>
<circle cx="1010.9" cy="922.0" r="1.7" fill="#6e6e6e"/>
<circle cx="1016.7" cy="922.0" r="1.7" fill="#6e6e6e"/>
<circle cx="1022.5" cy="922.0" r="1.7" fill="#6e6e6e"/>
<circle cx="1028.3" cy="922.0" r="1.7" fill="#6e6e6e"/>
<circle cx="1034.1" cy="922.0" r="1.7" fill="#6e6e6e"/>
<circle cx="1039.9" cy="922.0" r="1.7" fill="#6e6e6e"/>
<circle cx="1045.7" cy="922.0" r="1.7" fill="#6e6e6e"/>
<circle cx="1008.0" cy="927.8" r="1.7" fill="#6e6e6e"/>
<circle cx="1013.8" cy="927.8" r="1.7" fill="#6e6e6e"/>
<circle cx="1019.6" cy="927.8" r="1.7" fill="#6e6e6e"/>
<circle cx="1025.4" cy="927.8" r="1.7" fill="#6e6e6e"/>
<circle cx="1031.2" cy="927.8" r="1.7" fill="#6e6e6e"/>
<circle cx="1037.0" cy="927.8" r="1.7" fill="#6e6e6e"/>
<circle cx="1042.8" cy="927.8" r="1.7" fill="#6e6e6e"/>
<circle cx="1010.9" cy="933.6" r="1.7" fill="#6e6e6e"/>
<circle cx="1016.7" cy="933.6" r="1.7" fill="#6e6e6e"/>
<circle cx="1022.5" cy="933.6" r="1.7" fill="#6e6e6e"/>
<circle cx="1028.3" cy="933.6" r="1.7" fill="#6e6e6e"/>
<circle cx="1034.1" cy="933.6" r="1.7" fill="#6e6e6e"/>
<circle cx="1039.9" cy="933.6" r="1.7" fill="#6e6e6e"/>
<circle cx="1045.7" cy="933.6" r="1.7" fill="#6e6e6e"/>
<circle cx="1008.0" cy="939.4" r="1.7" fill="#6e6e6e"/>
<circle cx="1013.8" cy="939.4" r="1.7" fill="#6e6e6e"/>
<circle cx="1019.6" cy="939.4" r="1.7" fill="#6e6e6e"/>
<circle cx="1025.4" cy="939.4" r="1.7" fill="#6e6e6e"/>
<circle cx="1031.2" cy="939.4" r="1.7" fill="#6e6e6e"/>
<circle cx="1037.0" cy="939.4" r="1.7" fill="#6e6e6e"/>
<circle cx="1042.8" cy="939.4" r="1.7" fill="#6e6e6e"/>
<circle cx="1010.9" cy="945.2" r="1.7" fill="#6e6e6e"/>
<circle cx="1016.7" cy="945.2" r="1.7" fill="#6e6e6e"/>
<circle cx="1022.5" cy="945.2" r="1.7" fill="#6e6e6e"/>
<circle cx="1028.3" cy="945.2" r="1.7" fill="#6e6e6e"/>
<circle cx="1034.1" cy="945.2" r="1.7" fill="#6e6e6e"/>
<circle cx="1039.9" cy="945.2" r="1.7" fill="#6e6e6e"/>
<circle cx="1045.7" cy="945.2" r="1.7" fill="#6e6e6e"/>
<circle cx="1008.0" cy="951.0" r="1.7" fill="#6e6e6e"/>
<circle cx="1013.8" cy="951.0" r="1.7" fill="#6e6e6e"/>
<circle cx="1019.6" cy="951.0" r="1.7" fill="#6e6e6e"/>
<circle cx="1025.4" cy="951.0" r="1.7" fill="#6e6e6e"/>
<circle cx="1031.2" cy="951.0" r="1.7" fill="#6e6e6e"/>
<circle cx="1037.0" cy="951.0" r="1.7" fill="#6e6e6e"/>
<circle cx="1042.8" cy="951.0" r="1.7" fill="#6e6e6e"/>
<circle cx="1010.9" cy="956.8" r="1.7" fill="#6e6e6e"/>
<circle cx="1016.7" cy="956.8" r="1.7" fill="#6e6e6e"/>
<circle cx="1022.5" cy="956.8" r="1.7" fill="#6e6e6e"/>
<circle cx="1028.3" cy="956.8" r="1.7" fill="#6e6e6e"/>
<circle cx="1034.1" cy="956.8" r="1.7" fill="#6e6e6e"/>
<circle cx="1039.9" cy="956.8" r="1.7" fill="#6e6e6e"/>
<circle cx="1045.7" cy="956.8" r="1.7" fill="#6e6e6e"/>
<circle cx="1008.0" cy="962.6" r="1.7" fill="#6e6e6e"/>
<circle cx="1013.8" cy="962.6" r="1.7" fill="#6e6e6e"/>
<circle cx="1019.6" cy="962.6" r="1.7" fill="#6e6e6e"/>
<circle cx="1025.4" cy="962.6" r="1.7" fill="#6e6e6e"/>
<circle cx="1031.2" cy="962.6" r="1.7" fill="#6e6e6e"/>
<circle cx="1037.0" cy="962.6" r="1.7" fill="#6e6e6e"/>
<circle cx="1042.8" cy="962.6" r="1.7" fill="#6e6e6e"/>
<circle cx="1010.9" cy="968.4" r="1.7" fill="#6e6e6e"/>
<circle cx="1016.7" cy="968.4" r="1.7" fill="#6e6e6e"/>
<circle cx="1022.5" cy="968.4" r="1.7" fill="#6e6e6e"/>
<circle cx="1028.3" cy="968.4" r="1.7" fill="#6e6e6e"/>
<circle cx="1034.1" cy="968.4" r="1.7" fill="#6e6e6e"/>
<circle cx="1039.9" cy="968.4" r="1.7" fill="#6e6e6e"/>
<circle cx="1045.7" cy="968.4" r="1.7" fill="#6e6e6e"/>
<circle cx="1008.0" cy="974.2" r="1.7" fill="#6e6e6e"/>
<circle cx="1013.8" cy="974.2" r="1.7" fill="#6e6e6e"/>
<circle cx="1019.6" cy="974.2" r="1.7" fill="#6e6e6e"/>
<circle cx="1025.4" cy="974.2" r="1.7" fill="#6e6e6e"/>
<circle cx="1031.2" cy="974.2" r="1.7" fill="#6e6e6e"/>
<circle cx="1037.0" cy="974.2" r="1.7" fill="#6e6e6e"/>
<circle cx="1042.8" cy="974.2" r="1.7" fill="#6e6e6e"/>
<circle cx="1010.9" cy="980.0" r="1.7" fill="#6e6e6e"/>
<circle cx="1016.7" cy="980.0" r="1.7" fill="#6e6e6e"/>
<circle cx="1022.5" cy="980.0" r="1.7" fill="#6e6e6e"/>
<circle cx="1028.3" cy="980.0" r="1.7" fill="#6e6e6e"/>
<circle cx="1034.1" cy="980.0" r="1.7" fill="#6e6e6e"/>
<circle cx="1039.9" cy="980.0" r="1.7" fill="#6e6e6e"/>
<circle cx="1045.7" cy="980.0" r="1.7" fill="#6e6e6e"/>
<circle cx="1008.0" cy="985.8" r="1.7" fill="#6e6e6e"/>
<circle cx="1013.8" cy="985.8" r="1.7" fill="#6e6e6e"/>
<circle cx="1019.6" cy="985.8" r="1.7" fill="#6e6e6e"/>
<circle cx="1025.4" cy="985.8" r="1.7" fill="#6e6e6e"/>
<circle cx="1031.2" cy="985.8" r="1.7" fill="#6e6e6e"/>
<circle cx="1037.0" cy="985.8" r="1.7" fill="#6e6e6e"/>
<circle cx="1042.8" cy="985.8" r="1.7" fill="#6e6e6e"/>
<circle cx="1010.9" cy="991.6" r="1.7" fill="#6e6e6e"/>
<circle cx="1016.7" cy="991.6" r="1.7" fill="#6e6e6e"/>
<circle cx="1022.5" cy="991.6" r="1.7" fill="#6e6e6e"/>
<circle cx="1028.3" cy="991.6" r="1.7" fill="#6e6e6e"/>
<circle cx="1034.1" cy="991.6" r="1.7" fill="#6e6e6e"/>
<circle cx="1039.9" cy="991.6" r="1.7" fill="#6e6e6e"/>
<circle cx="1045.7" cy="991.6" r="1.7" fill="#6e6e6e"/>
<circle cx="1008.0" cy="997.4" r="1.7" fill="#6e6e6e"/>
<circle cx="1013.8" cy="997.4" r="1.7" fill="#6e6e6e"/>
<circle cx="1019.6" cy="997.4" r="1.7" fill="#6e6e6e"/>
<circle cx="1025.4" cy="997.4" r="1.7" fill="#6e6e6e"/>
<circle cx="1031.2" cy="997.4" r="1.7" fill="#6e6e6e"/>
<circle cx="1037.0" cy="997.4" r="1.7" fill="#6e6e6e"/>
<circle cx="1042.8" cy="997.4" r="1.7" fill="#6e6e6e"/>
<circle cx="1010.9" cy="1003.2" r="1.7" fill="#6e6e6e"/>
<circle cx="1016.7" cy="1003.2" r="1.7" fill="#6e6e6e"/>
<circle cx="1022.5" cy="1003.2" r="1.7" fill="#6e6e6e"/>
<circle cx="1028.3" cy="1003.2" r="1.7" fill="#6e6e6e"/>
<circle cx="1034.1" cy="1003.2" r="1.7" fill="#6e6e6e"/>
<circle cx="1039.9" cy="1003.2" r="1.7" fill="#6e6e6e"/>
<circle cx="1045.7" cy="1003.2" r="1.7" fill="#6e6e6e"/>
<circle cx="1008.0" cy="1009.0" r="1.7" fill="#6e6e6e"/>
<circle cx="1013.8" cy="1009.0" r="1.7" fill="#6e6e6e"/>
<circle cx="1019.6" cy="1009.0" r="1.7" fill="#6e6e6e"/>
<circle cx="1025.4" cy="1009.0" r="1.7" fill="#6e6e6e"/>
<circle cx="1031.2" cy="1009.0" r="1.7" fill="#6e6e6e"/>
<circle cx="1037.0" cy="1009.0" r="1.7" fill="#6e6e6e"/>
<circle cx="1042.8" cy="1009.0" r="1.7" fill="#6e6e6e"/>
<circle cx="1028.0" cy="1040.0" r="1.5" fill="#5a5a5a"/>
<circle cx="1034.0" cy="1040.0" r="1.5" fill="#5a5a5a"/>
<circle cx="1040.0" cy="1040.0" r="1.5" fill="#5a5a5a"/>
<circle cx="1046.0" cy="1040.0" r="1.5" fill="#5a5a5a"/>
<circle cx="1031.0" cy="1046.0" r="1.5" fill="#5a5a5a"/>
<circle cx="1037.0" cy="1046.0" r="1.5" fill="#5a5a5a"/>
<circle cx="1043.0" cy="1046.0" r="1.5" fill="#5a5a5a"/>
<circle cx="1049.0" cy="1046.0" r="1.5" fill="#5a5a5a"/>
<circle cx="1028.0" cy="1052.0" r="1.5" fill="#5a5a5a"/>
<circle cx="1034.0" cy="1052.0" r="1.5" fill="#5a5a5a"/>
<circle cx="1040.0" cy="1052.0" r="1.5" fill="#5a5a5a"/>
<circle cx="1046.0" cy="1052.0" r="1.5" fill="#5a5a5a"/>
<circle cx="1031.0" cy="1058.0" r="1.5" fill="#5a5a5a"/>
<circle cx="1037.0" cy="1058.0" r="1.5" fill="#5a5a5a"/>
<circle cx="1043.0" cy="1058.0" r="1.5" fill="#5a5a5a"/>
<circle cx="1049.0" cy="1058.0" r="1.5" fill="#5a5a5a"/>
<circle cx="1028.0" cy="1064.0" r="1.5" fill="#5a5a5a"/>
<circle cx="1034.0" cy="1064.0" r="1.5" fill="#5a5a5a"/>
<circle cx="1040.0" cy="1064.0" r="1.5" fill="#5a5a5a"/>
<circle cx="1046.0" cy="1064.0" r="1.5" fill="#5a5a5a"/>
<circle cx="1031.0" cy="1070.0" r="1.5" fill="#5a5a5a"/>
<circle cx="1037.0" cy="1070.0" r="1.5" fill="#5a5a5a"/>
<circle cx="1043.0" cy="1070.0" r="1.5" fill="#5a5a5a"/>
<circle cx="1049.0" cy="1070.0" r="1.5" fill="#5a5a5a"/>
<circle cx="1028.0" cy="1076.0" r="1.5" fill="#5a5a5a"/>
<circle cx="1034.0" cy="1076.0" r="1.5" fill="#5a5a5a"/>
<circle cx="1040.0" cy="1076.0" r="1.5" fill="#5a5a5a"/>
<circle cx="1046.0" cy="1076.0" r="1.5" fill="#5a5a5a"/>
<circle cx="1031.0" cy="1082.0" r="1.5" fill="#5a5a5a"/>
<circle cx="1037.0" cy="1082.0" r="1.5" fill="#5a5a5a"/>
<circle cx="1043.0" cy="1082.0" r="1.5" fill="#5a5a5a"/>
<circle cx="1049.0" cy="1082.0" r="1.5" fill="#5a5a5a"/>
<circle cx="1028.0" cy="1088.0" r="1.5" fill="#5a5a5a"/>
<circle cx="1034.0" cy="1088.0" r="1.5" fill="#5a5a5a"/>
<circle cx="1040.0" cy="1088.0" r="1.5" fill="#5a5a5a"/>
<circle cx="1046.0" cy="1088.0" r="1.5" fill="#5a5a5a"/>
<g transform="translate(846,1010) skewY(16.5)"><circle cx="0.0" cy="0.0" r="1.6" fill="#6a6a6a"/><circle cx="5.8" cy="0.0" r="1.6" fill="#6a6a6a"/><circle cx="11.6" cy="0.0" r="1.6" fill="#6a6a6a"/><circle cx="17.4" cy="0.0" r="1.6" fill="#6a6a6a"/><circle cx="23.2" cy="0.0" r="1.6" fill="#6a6a6a"/><circle cx="29.0" cy="0.0" r="1.6" fill="#6a6a6a"/><circle cx="34.8" cy="0.0" r="1.6" fill="#6a6a6a"/><circle cx="40.6" cy="0.0" r="1.6" fill="#6a6a6a"/><circle cx="46.4" cy="0.0" r="1.6" fill="#6a6a6a"/><circle cx="52.2" cy="0.0" r="1.6" fill="#6a6a6a"/><circle cx="58.0" cy="0.0" r="1.6" fill="#6a6a6a"/><circle cx="63.8" cy="0.0" r="1.6" fill="#6a6a6a"/><circle cx="69.6" cy="0.0" r="1.6" fill="#6a6a6a"/><circle cx="75.4" cy="0.0" r="1.6" fill="#6a6a6a"/><circle cx="81.2" cy="0.0" r="1.6" fill="#6a6a6a"/><circle cx="87.0" cy="0.0" r="1.6" fill="#6a6a6a"/><circle cx="2.9" cy="5.6" r="1.6" fill="#6a6a6a"/><circle cx="8.7" cy="5.6" r="1.6" fill="#6a6a6a"/><circle cx="14.5" cy="5.6" r="1.6" fill="#6a6a6a"/><circle cx="20.3" cy="5.6" r="1.6" fill="#6a6a6a"/><circle cx="26.1" cy="5.6" r="1.6" fill="#6a6a6a"/><circle cx="31.9" cy="5.6" r="1.6" fill="#6a6a6a"/><circle cx="37.7" cy="5.6" r="1.6" fill="#6a6a6a"/><circle cx="43.5" cy="5.6" r="1.6" fill="#6a6a6a"/><circle cx="49.3" cy="5.6" r="1.6" fill="#6a6a6a"/><circle cx="55.1" cy="5.6" r="1.6" fill="#6a6a6a"/><circle cx="60.9" cy="5.6" r="1.6" fill="#6a6a6a"/><circle cx="66.7" cy="5.6" r="1.6" fill="#6a6a6a"/><circle cx="72.5" cy="5.6" r="1.6" fill="#6a6a6a"/><circle cx="78.3" cy="5.6" r="1.6" fill="#6a6a6a"/><circle cx="84.1" cy="5.6" r="1.6" fill="#6a6a6a"/><circle cx="89.9" cy="5.6" r="1.6" fill="#6a6a6a"/><circle cx="0.0" cy="11.2" r="1.6" fill="#6a6a6a"/><circle cx="5.8" cy="11.2" r="1.6" fill="#6a6a6a"/><circle cx="11.6" cy="11.2" r="1.6" fill="#6a6a6a"/><circle cx="17.4" cy="11.2" r="1.6" fill="#6a6a6a"/><circle cx="23.2" cy="11.2" r="1.6" fill="#6a6a6a"/><circle cx="29.0" cy="11.2" r="1.6" fill="#6a6a6a"/><circle cx="34.8" cy="11.2" r="1.6" fill="#6a6a6a"/><circle cx="40.6" cy="11.2" r="1.6" fill="#6a6a6a"/><circle cx="46.4" cy="11.2" r="1.6" fill="#6a6a6a"/><circle cx="52.2" cy="11.2" r="1.6" fill="#6a6a6a"/><circle cx="58.0" cy="11.2" r="1.6" fill="#6a6a6a"/><circle cx="63.8" cy="11.2" r="1.6" fill="#6a6a6a"/><circle cx="69.6" cy="11.2" r="1.6" fill="#6a6a6a"/><circle cx="75.4" cy="11.2" r="1.6" fill="#6a6a6a"/><circle cx="81.2" cy="11.2" r="1.6" fill="#6a6a6a"/><circle cx="87.0" cy="11.2" r="1.6" fill="#6a6a6a"/><circle cx="2.9" cy="16.8" r="1.6" fill="#6a6a6a"/><circle cx="8.7" cy="16.8" r="1.6" fill="#6a6a6a"/><circle cx="14.5" cy="16.8" r="1.6" fill="#6a6a6a"/><circle cx="20.3" cy="16.8" r="1.6" fill="#6a6a6a"/><circle cx="26.1" cy="16.8" r="1.6" fill="#6a6a6a"/><circle cx="31.9" cy="16.8" r="1.6" fill="#6a6a6a"/><circle cx="37.7" cy="16.8" r="1.6" fill="#6a6a6a"/><circle cx="43.5" cy="16.8" r="1.6" fill="#6a6a6a"/><circle cx="49.3" cy="16.8" r="1.6" fill="#6a6a6a"/><circle cx="55.1" cy="16.8" r="1.6" fill="#6a6a6a"/><circle cx="60.9" cy="16.8" r="1.6" fill="#6a6a6a"/><circle cx="66.7" cy="16.8" r="1.6" fill="#6a6a6a"/><circle cx="72.5" cy="16.8" r="1.6" fill="#6a6a6a"/><circle cx="78.3" cy="16.8" r="1.6" fill="#6a6a6a"/><circle cx="84.1" cy="16.8" r="1.6" fill="#6a6a6a"/><circle cx="89.9" cy="16.8" r="1.6" fill="#6a6a6a"/><circle cx="0.0" cy="22.4" r="1.6" fill="#6a6a6a"/><circle cx="5.8" cy="22.4" r="1.6" fill="#6a6a6a"/><circle cx="11.6" cy="22.4" r="1.6" fill="#6a6a6a"/><circle cx="17.4" cy="22.4" r="1.6" fill="#6a6a6a"/><circle cx="23.2" cy="22.4" r="1.6" fill="#6a6a6a"/><circle cx="29.0" cy="22.4" r="1.6" fill="#6a6a6a"/><circle cx="34.8" cy="22.4" r="1.6" fill="#6a6a6a"/><circle cx="40.6" cy="22.4" r="1.6" fill="#6a6a6a"/><circle cx="46.4" cy="22.4" r="1.6" fill="#6a6a6a"/><circle cx="52.2" cy="22.4" r="1.6" fill="#6a6a6a"/><circle cx="58.0" cy="22.4" r="1.6" fill="#6a6a6a"/><circle cx="63.8" cy="22.4" r="1.6" fill="#6a6a6a"/><circle cx="69.6" cy="22.4" r="1.6" fill="#6a6a6a"/><circle cx="75.4" cy="22.4" r="1.6" fill="#6a6a6a"/><circle cx="81.2" cy="22.4" r="1.6" fill="#6a6a6a"/><circle cx="87.0" cy="22.4" r="1.6" fill="#6a6a6a"/><circle cx="2.9" cy="28.0" r="1.6" fill="#6a6a6a"/><circle cx="8.7" cy="28.0" r="1.6" fill="#6a6a6a"/><circle cx="14.5" cy="28.0" r="1.6" fill="#6a6a6a"/><circle cx="20.3" cy="28.0" r="1.6" fill="#6a6a6a"/><circle cx="26.1" cy="28.0" r="1.6" fill="#6a6a6a"/><circle cx="31.9" cy="28.0" r="1.6" fill="#6a6a6a"/><circle cx="37.7" cy="28.0" r="1.6" fill="#6a6a6a"/><circle cx="43.5" cy="28.0" r="1.6" fill="#6a6a6a"/><circle cx="49.3" cy="28.0" r="1.6" fill="#6a6a6a"/><circle cx="55.1" cy="28.0" r="1.6" fill="#6a6a6a"/><circle cx="60.9" cy="28.0" r="1.6" fill="#6a6a6a"/><circle cx="66.7" cy="28.0" r="1.6" fill="#6a6a6a"/><circle cx="72.5" cy="28.0" r="1.6" fill="#6a6a6a"/><circle cx="78.3" cy="28.0" r="1.6" fill="#6a6a6a"/><circle cx="84.1" cy="28.0" r="1.6" fill="#6a6a6a"/><circle cx="89.9" cy="28.0" r="1.6" fill="#6a6a6a"/><circle cx="0.0" cy="33.6" r="1.6" fill="#6a6a6a"/><circle cx="5.8" cy="33.6" r="1.6" fill="#6a6a6a"/><circle cx="11.6" cy="33.6" r="1.6" fill="#6a6a6a"/><circle cx="17.4" cy="33.6" r="1.6" fill="#6a6a6a"/><circle cx="23.2" cy="33.6" r="1.6" fill="#6a6a6a"/><circle cx="29.0" cy="33.6" r="1.6" fill="#6a6a6a"/><circle cx="34.8" cy="33.6" r="1.6" fill="#6a6a6a"/><circle cx="40.6" cy="33.6" r="1.6" fill="#6a6a6a"/><circle cx="46.4" cy="33.6" r="1.6" fill="#6a6a6a"/><circle cx="52.2" cy="33.6" r="1.6" fill="#6a6a6a"/><circle cx="58.0" cy="33.6" r="1.6" fill="#6a6a6a"/><circle cx="63.8" cy="33.6" r="1.6" fill="#6a6a6a"/><circle cx="69.6" cy="33.6" r="1.6" fill="#6a6a6a"/><circle cx="75.4" cy="33.6" r="1.6" fill="#6a6a6a"/><circle cx="81.2" cy="33.6" r="1.6" fill="#6a6a6a"/><circle cx="87.0" cy="33.6" r="1.6" fill="#6a6a6a"/><circle cx="2.9" cy="39.2" r="1.6" fill="#6a6a6a"/><circle cx="8.7" cy="39.2" r="1.6" fill="#6a6a6a"/><circle cx="14.5" cy="39.2" r="1.6" fill="#6a6a6a"/><circle cx="20.3" cy="39.2" r="1.6" fill="#6a6a6a"/><circle cx="26.1" cy="39.2" r="1.6" fill="#6a6a6a"/><circle cx="31.9" cy="39.2" r="1.6" fill="#6a6a6a"/><circle cx="37.7" cy="39.2" r="1.6" fill="#6a6a6a"/><circle cx="43.5" cy="39.2" r="1.6" fill="#6a6a6a"/><circle cx="49.3" cy="39.2" r="1.6" fill="#6a6a6a"/><circle cx="55.1" cy="39.2" r="1.6" fill="#6a6a6a"/><circle cx="60.9" cy="39.2" r="1.6" fill="#6a6a6a"/><circle cx="66.7" cy="39.2" r="1.6" fill="#6a6a6a"/><circle cx="72.5" cy="39.2" r="1.6" fill="#6a6a6a"/><circle cx="78.3" cy="39.2" r="1.6" fill="#6a6a6a"/><circle cx="84.1" cy="39.2" r="1.6" fill="#6a6a6a"/><circle cx="89.9" cy="39.2" r="1.6" fill="#6a6a6a"/></g>
<polygon points="1073.0,727.0 1118.0,737.0 1108.0,1088.0 1068.0,1089.0" fill="url(#darkBoard)" />
<ellipse cx="1088.6" cy="746" rx="6" ry="7.5" fill="#9c9c9c"/><ellipse cx="1080" cy="786" rx="4" ry="5" fill="#3c3c3c"/>
<ellipse cx="1096.6" cy="1036.6" rx="5" ry="6.5" fill="#9a9a9a"/><ellipse cx="1095.8" cy="1071" rx="4" ry="5" fill="#8a8a8a"/>
<rect x="1113" y="888" width="13" height="83" fill="#3a3a3a"/>
<rect x="1053" y="901" width="21" height="30" rx="1.5" fill="#d4d4d4" stroke="#444" stroke-width="0.8"/>
<text x="1055" y="911" font-family="Liberation Mono, monospace" font-size="7" fill="#333">OOG</text><text x="1055" y="919" font-family="Liberation Mono, monospace" font-size="7" fill="#333">ADD</text><text x="1055" y="927" font-family="Liberation Mono, monospace" font-size="7" fill="#333">NNG</text>
<polygon points="731.0,684.0 1006.0,744.0 1006.0,1040.0 988.0,1046.0 786.0,989.0 733.0,975.0" fill="url(#frameG)" />
<path d="M733.0,687.0 L1003.0,746.0 L1003.0,841.0 L733.0,776.0 Z" fill="#2aaeea" stroke="#2aaeea" stroke-width="10" stroke-linejoin="round" filter="url(#glow)" opacity="0.8"/>
<path d="M733.0,687.0 L1003.0,746.0 L1003.0,841.0 L733.0,776.0 Z" fill="#1a9ce0" stroke="#1a9ce0" stroke-width="4" stroke-linejoin="round" filter="url(#glowS)"/>
<polygon points="990.0,842.0 1006.0,840.0 1006.0,1040.0 990.0,1046.0" fill="#7a7a7c" />
<line x1="989" y1="842" x2="989" y2="1046" stroke="#e8e8e8" stroke-width="1.2"/>
<polygon points="737.0,680.0 1008.0,739.0 1008.0,836.0 1003.0,841.0 733.0,776.0 733.0,687.0" fill="#1d72c6" />
<polygon points="733.0,687.0 1003.0,746.0 1003.0,841.0 733.0,776.0" fill="#cfcbcb" />
<path d="M733.0,687.0 L1003.0,746.0 L1003.0,841.0 L733.0,776.0 Z" fill="none" stroke="#1673c8" stroke-width="2.2"/>
<g transform="translate(738,697.7) skewY(12.4)"><rect x="0" y="0" width="14.5" height="70" rx="6" fill="#1a86dc" stroke="#0f5fa8" stroke-width="1.4"/><rect x="5.51" y="8" width="4.35" height="54" rx="3" fill="#14508a" filter="url(#inner2)"/><rect x="1.2" y="5" width="1.6" height="60" fill="#e8eef4" opacity="0.8"/></g>
<g transform="translate(758.4,701.4) skewY(12.4)"><rect x="0" y="0" width="49.30000000000007" height="70" rx="6" fill="#1a86dc" stroke="#0f5fa8" stroke-width="1.4"/><rect x="6" y="7" width="37.30000000000007" height="56" rx="4" fill="#202428" filter="url(#inner2)"/></g>
<g transform="translate(814.6,714.3) skewY(12.4)"><rect x="0" y="0" width="52.5" height="70" rx="6" fill="#1a86dc" stroke="#0f5fa8" stroke-width="1.4"/><rect x="6" y="7" width="40.5" height="56" rx="4" fill="#202428" filter="url(#inner2)"/></g>
<g transform="translate(873,728.8) skewY(12.4)"><rect x="0" y="0" width="22.399999999999977" height="70" rx="6" fill="#1a86dc" stroke="#0f5fa8" stroke-width="1.4"/><rect x="8.511999999999992" y="8" width="6.719999999999993" height="54" rx="3" fill="#14508a" filter="url(#inner2)"/><rect x="1.2" y="5" width="1.6" height="60" fill="#e8eef4" opacity="0.8"/></g>
<g transform="translate(903,735.7) skewY(12.4)"><rect x="0" y="0" width="22.399999999999977" height="70" rx="6" fill="#1a86dc" stroke="#0f5fa8" stroke-width="1.4"/><rect x="8.511999999999992" y="8" width="6.719999999999993" height="54" rx="3" fill="#14508a" filter="url(#inner2)"/><rect x="1.2" y="5" width="1.6" height="60" fill="#e8eef4" opacity="0.8"/></g>
<g transform="translate(934,743) skewY(12.4)"><rect x="0" y="0" width="23" height="70" rx="6" fill="#1a86dc" stroke="#0f5fa8" stroke-width="1.4"/><rect x="8.74" y="8" width="6.8999999999999995" height="54" rx="3" fill="#14508a" filter="url(#inner2)"/><rect x="1.2" y="5" width="1.6" height="60" fill="#e8eef4" opacity="0.8"/></g>
<g transform="translate(965.5,750.7) skewY(12.4)"><rect x="0" y="0" width="25.200000000000045" height="70" rx="6" fill="#1a86dc" stroke="#0f5fa8" stroke-width="1.4"/><rect x="9.576000000000018" y="8" width="7.560000000000013" height="54" rx="3" fill="#14508a" filter="url(#inner2)"/><rect x="1.2" y="5" width="1.6" height="60" fill="#e8eef4" opacity="0.8"/></g>
<g transform="translate(849,733) skewY(12.4)"><rect x="0" y="0" width="19" height="31" rx="2" fill="#cdcaca"/><rect x="0" y="0" width="19" height="31" rx="2" fill="none" stroke="#1a86dc" stroke-width="2.5" filter="url(#glowS)"/></g>
<g transform="translate(739.6,789.3) skewY(13.888000000000002)"><rect x="0" y="0" width="71.8" height="78" rx="5" fill="#121212"/><rect x="12.206" y="3" width="57.44" height="66" rx="5" fill="#292929"/><rect x="30.2" y="14.4" width="0.9" height="2.6" fill="#8a8a8a" opacity="0.55"/><rect x="32.3" y="9.2" width="0.8" height="2.3" fill="#8a8a8a" opacity="0.55"/><rect x="17.7" y="11.1" width="3.5" height="0.9" fill="#8a8a8a" opacity="0.55"/><rect x="25.2" y="41.1" width="1.2" height="2.2" fill="#8a8a8a" opacity="0.55"/><rect x="62.5" y="8.6" width="1.0" height="1.4" fill="#8a8a8a" opacity="0.55"/><rect x="20.0" y="23.3" width="0.9" height="2.7" fill="#8a8a8a" opacity="0.55"/><rect x="45.8" y="26.9" width="0.8" height="1.2" fill="#8a8a8a" opacity="0.55"/><rect x="24.4" y="44.1" width="1.9" height="1.3" fill="#8a8a8a" opacity="0.55"/><rect x="36.6" y="22.8" width="1.3" height="1.7" fill="#8a8a8a" opacity="0.55"/><rect x="42.6" y="35.4" width="1.3" height="1.9" fill="#8a8a8a" opacity="0.55"/><rect x="62.7" y="12.6" width="3.3" height="0.9" fill="#8a8a8a" opacity="0.55"/><rect x="38.4" y="8.2" width="1.3" height="2.7" fill="#8a8a8a" opacity="0.55"/><rect x="57.5" y="23.6" width="1.2" height="2.7" fill="#8a8a8a" opacity="0.55"/><rect x="36.8" y="53.0" width="1.1" height="3.0" fill="#8a8a8a" opacity="0.55"/><rect x="17.2" y="45.3" width="1.5" height="3.5" fill="#8a8a8a" opacity="0.55"/><rect x="28.3" y="27.6" width="0.8" height="2.4" fill="#8a8a8a" opacity="0.55"/><rect x="22.5" y="12.6" width="3.3" height="0.9" fill="#8a8a8a" opacity="0.55"/><rect x="26.4" y="27.9" width="0.9" height="2.3" fill="#8a8a8a" opacity="0.55"/><rect x="41.4" y="55.5" width="1.4" height="1.8" fill="#8a8a8a" opacity="0.55"/><rect x="34.7" y="26.1" width="1.5" height="1.5" fill="#8a8a8a" opacity="0.55"/><rect x="22.9" y="19.0" width="2.5" height="1.3" fill="#8a8a8a" opacity="0.55"/><rect x="27.2" y="6.2" width="2.1" height="1.3" fill="#8a8a8a" opacity="0.55"/><rect x="61.3" y="44.7" width="1.2" height="3.0" fill="#8a8a8a" opacity="0.55"/><rect x="16.9" y="56.4" width="1.4" height="3.4" fill="#8a8a8a" opacity="0.55"/><rect x="33.6" y="28.3" width="2.9" height="0.8" fill="#8a8a8a" opacity="0.55"/><rect x="17.5" y="17.7" width="2.0" height="0.8" fill="#8a8a8a" opacity="0.55"/><rect x="14.2" y="14.5" width="2.1" height="0.8" fill="#8a8a8a" opacity="0.55"/><rect x="57.4" y="40.4" width="1.8" height="1.1" fill="#8a8a8a" opacity="0.55"/><rect x="32.2" y="12.9" width="1.5" height="2.4" fill="#8a8a8a" opacity="0.55"/><rect x="38.1" y="10.8" width="2.0" height="1.0" fill="#8a8a8a" opacity="0.55"/><rect x="55.2" y="15.0" width="3.9" height="1.2" fill="#8a8a8a" opacity="0.55"/><rect x="21.5" y="36.4" width="2.6" height="1.6" fill="#8a8a8a" opacity="0.55"/><rect x="56.9" y="45.0" width="2.1" height="0.9" fill="#8a8a8a" opacity="0.55"/><rect x="52.4" y="35.8" width="1.0" height="1.7" fill="#8a8a8a" opacity="0.55"/><rect x="54.3" y="61.2" width="1.4" height="3.5" fill="#8a8a8a" opacity="0.55"/><rect x="50.8" y="18.7" width="1.0" height="1.1" fill="#8a8a8a" opacity="0.55"/><rect x="15.6" y="21.6" width="3.1" height="1.6" fill="#8a8a8a" opacity="0.55"/><rect x="36.3" y="58.5" width="1.5" height="2.1" fill="#8a8a8a" opacity="0.55"/><rect x="0" y="68" width="71.8" height="10" fill="#0c0c0c" opacity="0.6"/></g>
<g transform="translate(817.8,809.6) skewY(13.888000000000002)"><rect x="0" y="0" width="76" height="79" rx="5" fill="#121212"/><rect x="12.920000000000002" y="3" width="60.800000000000004" height="67" rx="5" fill="#292929"/><rect x="26.6" y="18.9" width="1.6" height="1.3" fill="#8a8a8a" opacity="0.55"/><rect x="62.5" y="53.9" width="3.0" height="1.4" fill="#8a8a8a" opacity="0.55"/><rect x="19.4" y="43.7" width="1.3" height="3.3" fill="#8a8a8a" opacity="0.55"/><rect x="40.2" y="16.2" width="1.0" height="3.4" fill="#8a8a8a" opacity="0.55"/><rect x="66.2" y="28.6" width="3.8" height="1.4" fill="#8a8a8a" opacity="0.55"/><rect x="23.9" y="13.2" width="3.7" height="1.4" fill="#8a8a8a" opacity="0.55"/><rect x="22.6" y="53.1" width="1.3" height="2.1" fill="#8a8a8a" opacity="0.55"/><rect x="43.9" y="13.5" width="3.9" height="1.3" fill="#8a8a8a" opacity="0.55"/><rect x="42.7" y="59.2" width="3.6" height="1.5" fill="#8a8a8a" opacity="0.55"/><rect x="26.1" y="20.4" width="1.7" height="1.3" fill="#8a8a8a" opacity="0.55"/><rect x="28.6" y="29.9" width="3.7" height="1.1" fill="#8a8a8a" opacity="0.55"/><rect x="39.1" y="39.3" width="1.1" height="3.8" fill="#8a8a8a" opacity="0.55"/><rect x="41.4" y="36.3" width="0.8" height="2.3" fill="#8a8a8a" opacity="0.55"/><rect x="24.6" y="6.2" width="0.9" height="2.4" fill="#8a8a8a" opacity="0.55"/><rect x="53.2" y="37.7" width="2.6" height="1.2" fill="#8a8a8a" opacity="0.55"/><rect x="56.3" y="12.0" width="1.0" height="1.8" fill="#8a8a8a" opacity="0.55"/><rect x="55.7" y="34.9" width="1.3" height="3.7" fill="#8a8a8a" opacity="0.55"/><rect x="38.3" y="40.9" width="1.2" height="3.1" fill="#8a8a8a" opacity="0.55"/><rect x="38.8" y="36.4" width="3.8" height="1.4" fill="#8a8a8a" opacity="0.55"/><rect x="61.2" y="59.7" width="2.7" height="1.6" fill="#8a8a8a" opacity="0.55"/><rect x="59.3" y="13.8" width="2.3" height="0.9" fill="#8a8a8a" opacity="0.55"/><rect x="27.6" y="10.2" width="1.3" height="3.7" fill="#8a8a8a" opacity="0.55"/><rect x="23.1" y="46.8" width="0.9" height="3.6" fill="#8a8a8a" opacity="0.55"/><rect x="66.0" y="18.5" width="1.1" height="2.5" fill="#8a8a8a" opacity="0.55"/><rect x="67.2" y="53.4" width="2.3" height="1.2" fill="#8a8a8a" opacity="0.55"/><rect x="32.8" y="17.2" width="3.2" height="0.8" fill="#8a8a8a" opacity="0.55"/><rect x="44.2" y="31.1" width="2.0" height="1.3" fill="#8a8a8a" opacity="0.55"/><rect x="42.0" y="9.7" width="1.4" height="3.9" fill="#8a8a8a" opacity="0.55"/><rect x="20.5" y="21.1" width="3.3" height="1.0" fill="#8a8a8a" opacity="0.55"/><rect x="21.8" y="30.1" width="1.4" height="1.8" fill="#8a8a8a" opacity="0.55"/><rect x="22.8" y="58.4" width="1.3" height="1.3" fill="#8a8a8a" opacity="0.55"/><rect x="18.0" y="45.2" width="1.2" height="1.6" fill="#8a8a8a" opacity="0.55"/><rect x="48.4" y="51.7" width="3.6" height="0.9" fill="#8a8a8a" opacity="0.55"/><rect x="60.5" y="31.9" width="2.7" height="1.5" fill="#8a8a8a" opacity="0.55"/><rect x="29.1" y="13.4" width="1.0" height="1.3" fill="#8a8a8a" opacity="0.55"/><rect x="23.4" y="8.9" width="1.9" height="1.0" fill="#8a8a8a" opacity="0.55"/><rect x="55.0" y="22.5" width="0.9" height="2.0" fill="#8a8a8a" opacity="0.55"/><rect x="15.9" y="20.3" width="3.2" height="1.2" fill="#8a8a8a" opacity="0.55"/><rect x="0" y="69" width="76" height="10" fill="#0c0c0c" opacity="0.6"/></g>
<g transform="translate(899,831) skewY(13.888000000000002)"><rect x="0" y="0" width="82.8" height="82" rx="5" fill="#121212"/><rect x="14.076" y="3" width="66.24" height="70" rx="5" fill="#292929"/><rect x="27.1" y="34.5" width="0.9" height="3.5" fill="#8a8a8a" opacity="0.55"/><rect x="41.2" y="35.7" width="1.1" height="2.5" fill="#8a8a8a" opacity="0.55"/><rect x="56.1" y="64.9" width="3.5" height="1.4" fill="#8a8a8a" opacity="0.55"/><rect x="53.1" y="30.3" width="1.2" height="0.9" fill="#8a8a8a" opacity="0.55"/><rect x="20.2" y="50.5" width="1.5" height="0.9" fill="#8a8a8a" opacity="0.55"/><rect x="65.1" y="58.2" width="1.0" height="1.7" fill="#8a8a8a" opacity="0.55"/><rect x="33.1" y="33.6" width="2.3" height="1.0" fill="#8a8a8a" opacity="0.55"/><rect x="72.1" y="64.4" width="1.0" height="3.9" fill="#8a8a8a" opacity="0.55"/><rect x="34.1" y="27.4" width="2.1" height="1.2" fill="#8a8a8a" opacity="0.55"/><rect x="45.4" y="18.1" width="0.8" height="1.8" fill="#8a8a8a" opacity="0.55"/><rect x="21.3" y="30.0" width="1.1" height="1.0" fill="#8a8a8a" opacity="0.55"/><rect x="29.6" y="41.1" width="1.3" height="3.0" fill="#8a8a8a" opacity="0.55"/><rect x="57.8" y="58.7" width="2.0" height="1.6" fill="#8a8a8a" opacity="0.55"/><rect x="24.8" y="49.4" width="0.8" height="3.5" fill="#8a8a8a" opacity="0.55"/><rect x="68.0" y="43.6" width="1.4" height="1.4" fill="#8a8a8a" opacity="0.55"/><rect x="46.6" y="36.3" width="1.4" height="3.5" fill="#8a8a8a" opacity="0.55"/><rect x="50.1" y="59.6" width="1.3" height="1.7" fill="#8a8a8a" opacity="0.55"/><rect x="17.9" y="14.0" width="1.3" height="1.5" fill="#8a8a8a" opacity="0.55"/><rect x="48.6" y="43.7" width="1.3" height="2.5" fill="#8a8a8a" opacity="0.55"/><rect x="16.3" y="53.9" width="1.2" height="2.6" fill="#8a8a8a" opacity="0.55"/><rect x="54.5" y="10.0" width="1.0" height="1.2" fill="#8a8a8a" opacity="0.55"/><rect x="31.5" y="49.8" width="3.2" height="1.6" fill="#8a8a8a" opacity="0.55"/><rect x="44.8" y="29.0" width="3.1" height="1.4" fill="#8a8a8a" opacity="0.55"/><rect x="52.0" y="44.6" width="1.4" height="1.0" fill="#8a8a8a" opacity="0.55"/><rect x="59.4" y="24.3" width="0.8" height="1.2" fill="#8a8a8a" opacity="0.55"/><rect x="31.7" y="46.3" width="1.3" height="1.9" fill="#8a8a8a" opacity="0.55"/><rect x="46.2" y="33.9" width="1.4" height="1.5" fill="#8a8a8a" opacity="0.55"/><rect x="27.7" y="64.7" width="0.8" height="2.4" fill="#8a8a8a" opacity="0.55"/><rect x="63.8" y="64.1" width="1.8" height="1.0" fill="#8a8a8a" opacity="0.55"/><rect x="71.1" y="18.6" width="0.9" height="2.6" fill="#8a8a8a" opacity="0.55"/><rect x="71.6" y="14.0" width="1.2" height="3.7" fill="#8a8a8a" opacity="0.55"/><rect x="57.0" y="19.9" width="1.1" height="1.1" fill="#8a8a8a" opacity="0.55"/><rect x="16.3" y="35.5" width="1.9" height="0.9" fill="#8a8a8a" opacity="0.55"/><rect x="36.1" y="25.0" width="0.8" height="3.3" fill="#8a8a8a" opacity="0.55"/><rect x="64.9" y="13.2" width="1.3" height="3.7" fill="#8a8a8a" opacity="0.55"/><rect x="33.0" y="28.3" width="4.0" height="1.3" fill="#8a8a8a" opacity="0.55"/><rect x="37.1" y="31.7" width="1.1" height="0.9" fill="#8a8a8a" opacity="0.55"/><rect x="64.7" y="23.1" width="1.0" height="1.8" fill="#8a8a8a" opacity="0.55"/><rect x="0" y="72" width="82.8" height="10" fill="#0c0c0c" opacity="0.6"/></g>
<g transform="translate(868,890) skewY(12.4)"><rect x="0" y="0" width="26" height="16" fill="#c4c4c4"/></g>
<polygon points="785.0,890.0 981.0,946.0 981.0,1034.0 785.0,976.0" fill="#1d1d1d" />
<g transform="translate(785,890) skewY(16)"><rect x="95.0" y="15.7" width="3.9" height="1.5" fill="#7a7a7a" opacity="0.45"/><rect x="149.8" y="47.4" width="1.5" height="2.6" fill="#7a7a7a" opacity="0.45"/><rect x="133.0" y="5.6" width="1.1" height="3.3" fill="#7a7a7a" opacity="0.45"/><rect x="119.3" y="22.6" width="3.8" height="0.9" fill="#7a7a7a" opacity="0.45"/><rect x="87.9" y="26.7" width="3.2" height="1.6" fill="#7a7a7a" opacity="0.45"/><rect x="49.4" y="49.2" width="2.7" height="1.1" fill="#7a7a7a" opacity="0.45"/><rect x="32.5" y="13.6" width="3.7" height="1.2" fill="#7a7a7a" opacity="0.45"/><rect x="42.0" y="67.3" width="1.1" height="1.4" fill="#7a7a7a" opacity="0.45"/><rect x="37.0" y="8.5" width="1.3" height="1.0" fill="#7a7a7a" opacity="0.45"/><rect x="49.0" y="43.0" width="1.3" height="2.2" fill="#7a7a7a" opacity="0.45"/><rect x="77.3" y="39.7" width="2.0" height="0.8" fill="#7a7a7a" opacity="0.45"/><rect x="52.5" y="71.7" width="2.5" height="1.3" fill="#7a7a7a" opacity="0.45"/><rect x="159.0" y="17.5" width="1.7" height="1.1" fill="#7a7a7a" opacity="0.45"/><rect x="83.1" y="70.7" width="1.4" height="1.1" fill="#7a7a7a" opacity="0.45"/><rect x="7.9" y="53.1" width="1.1" height="2.8" fill="#7a7a7a" opacity="0.45"/><rect x="2.0" y="30.2" width="1.4" height="3.6" fill="#7a7a7a" opacity="0.45"/><rect x="178.9" y="19.9" width="1.5" height="1.2" fill="#7a7a7a" opacity="0.45"/><rect x="126.1" y="69.8" width="1.3" height="3.3" fill="#7a7a7a" opacity="0.45"/><rect x="85.2" y="41.7" width="3.3" height="1.0" fill="#7a7a7a" opacity="0.45"/><rect x="169.4" y="48.5" width="1.4" height="1.0" fill="#7a7a7a" opacity="0.45"/><rect x="117.8" y="52.3" width="1.2" height="1.2" fill="#7a7a7a" opacity="0.45"/><rect x="108.1" y="29.9" width="2.8" height="0.8" fill="#7a7a7a" opacity="0.45"/><rect x="56.9" y="35.2" width="1.3" height="3.7" fill="#7a7a7a" opacity="0.45"/><rect x="88.5" y="18.9" width="3.9" height="1.4" fill="#7a7a7a" opacity="0.45"/><rect x="57.9" y="3.6" width="3.0" height="1.1" fill="#7a7a7a" opacity="0.45"/><rect x="48.8" y="50.0" width="1.0" height="1.1" fill="#7a7a7a" opacity="0.45"/><rect x="63.5" y="32.3" width="0.9" height="3.4" fill="#7a7a7a" opacity="0.45"/><rect x="136.5" y="38.4" width="3.9" height="1.0" fill="#7a7a7a" opacity="0.45"/><rect x="151.2" y="18.6" width="3.3" height="1.0" fill="#7a7a7a" opacity="0.45"/><rect x="175.3" y="37.7" width="1.7" height="1.1" fill="#7a7a7a" opacity="0.45"/><rect x="123.1" y="70.3" width="2.2" height="1.0" fill="#7a7a7a" opacity="0.45"/><rect x="179.3" y="12.2" width="1.2" height="1.1" fill="#7a7a7a" opacity="0.45"/><rect x="165.5" y="65.6" width="1.5" height="3.8" fill="#7a7a7a" opacity="0.45"/><rect x="61.9" y="15.4" width="1.3" height="1.1" fill="#7a7a7a" opacity="0.45"/><rect x="122.9" y="29.3" width="2.0" height="0.9" fill="#7a7a7a" opacity="0.45"/><rect x="2.5" y="22.1" width="3.9" height="0.9" fill="#7a7a7a" opacity="0.45"/><rect x="177.5" y="16.9" width="3.5" height="1.5" fill="#7a7a7a" opacity="0.45"/><rect x="80.7" y="5.5" width="2.1" height="1.5" fill="#7a7a7a" opacity="0.45"/><rect x="37.1" y="28.2" width="0.8" height="2.2" fill="#7a7a7a" opacity="0.45"/><rect x="149.8" y="57.2" width="1.1" height="0.9" fill="#7a7a7a" opacity="0.45"/><rect x="169.5" y="20.5" width="1.4" height="2.0" fill="#7a7a7a" opacity="0.45"/><rect x="51.6" y="71.0" width="1.0" height="3.1" fill="#7a7a7a" opacity="0.45"/><rect x="59.6" y="21.8" width="3.3" height="1.5" fill="#7a7a7a" opacity="0.45"/><rect x="117.4" y="69.9" width="1.7" height="1.2" fill="#7a7a7a" opacity="0.45"/><rect x="176.1" y="70.7" width="1.8" height="1.1" fill="#7a7a7a" opacity="0.45"/><rect x="91.8" y="68.8" width="3.4" height="1.4" fill="#7a7a7a" opacity="0.45"/><rect x="151.7" y="57.6" width="1.0" height="2.0" fill="#7a7a7a" opacity="0.45"/><rect x="67.9" y="58.3" width="1.6" height="1.4" fill="#7a7a7a" opacity="0.45"/><rect x="47.0" y="6.7" width="2.7" height="1.1" fill="#7a7a7a" opacity="0.45"/><rect x="180.4" y="65.6" width="1.0" height="1.3" fill="#7a7a7a" opacity="0.45"/><rect x="19.5" y="37.9" width="1.1" height="1.7" fill="#7a7a7a" opacity="0.45"/><rect x="77.9" y="46.7" width="1.3" height="3.5" fill="#7a7a7a" opacity="0.45"/><rect x="122.9" y="10.7" width="1.0" height="2.7" fill="#7a7a7a" opacity="0.45"/><rect x="69.9" y="55.1" width="1.7" height="1.0" fill="#7a7a7a" opacity="0.45"/><rect x="29.9" y="65.7" width="1.0" height="2.2" fill="#7a7a7a" opacity="0.45"/><rect x="182.6" y="38.5" width="3.4" height="1.3" fill="#7a7a7a" opacity="0.45"/><rect x="182.4" y="9.4" width="3.5" height="1.5" fill="#7a7a7a" opacity="0.45"/><rect x="168.4" y="4.9" width="1.4" height="1.0" fill="#7a7a7a" opacity="0.45"/><rect x="179.1" y="44.0" width="1.1" height="3.6" fill="#7a7a7a" opacity="0.45"/><rect x="83.7" y="20.7" width="1.5" height="1.3" fill="#7a7a7a" opacity="0.45"/><rect x="110.5" y="46.6" width="2.1" height="0.9" fill="#7a7a7a" opacity="0.45"/><rect x="39.1" y="20.4" width="1.3" height="1.6" fill="#7a7a7a" opacity="0.45"/><rect x="4.1" y="25.6" width="0.9" height="1.9" fill="#7a7a7a" opacity="0.45"/><rect x="39.0" y="59.3" width="0.8" height="1.3" fill="#7a7a7a" opacity="0.45"/><rect x="73.9" y="41.6" width="0.9" height="1.5" fill="#7a7a7a" opacity="0.45"/><rect x="128.6" y="31.5" width="1.9" height="1.6" fill="#7a7a7a" opacity="0.45"/><rect x="58.8" y="42.8" width="2.2" height="1.5" fill="#7a7a7a" opacity="0.45"/><rect x="183.4" y="28.2" width="3.2" height="1.0" fill="#7a7a7a" opacity="0.45"/><rect x="3.1" y="66.9" width="3.5" height="1.1" fill="#7a7a7a" opacity="0.45"/><rect x="162.7" y="35.2" width="1.0" height="1.2" fill="#7a7a7a" opacity="0.45"/></g>
<text x="912" y="974" font-family="Liberation Sans, sans-serif" font-size="21" font-style="italic" fill="none" stroke="#7a7a7a" stroke-width="1.6" transform="rotate(15 912 974)" textLength="50" lengthAdjust="spacingAndGlyphs">ASUS</text>
<text x="916" y="1000" font-family="Liberation Sans, sans-serif" font-size="21" fill="#7a7a7a" transform="rotate(15 916 1000)" textLength="46" lengthAdjust="spacingAndGlyphs">CE FC</text>
<polyline points="785,976 981,1034" stroke="#8a8a8a" stroke-width="1" fill="none"/>
<g transform="translate(832.0,397.0) rotate(-28.98)"><rect x="-15.5" y="-5" width="31" height="101.30343195303969" rx="15.5" fill="#2aaeea" filter="url(#glowA)" opacity="0.9"/><rect x="-13.5" y="-3" width="27" height="97.30343195303969" rx="13.5" fill="#1a9ce0" filter="url(#glowS)"/><rect x="-11.7" y="-1.2" width="23.4" height="76.7034319530397" rx="4" fill="#1d2630"/><rect x="-3.2" y="73.30343195303969" width="6.4" height="19" rx="2" fill="#1d2630"/><rect x="-2.2" y="73.30343195303969" width="4.4" height="18" rx="1.5" fill="#e8e8e8"/><rect x="-10.5" y="0" width="21" height="74.30343195303969" rx="3" fill="url(#gold)"/><rect x="-10.5" y="33.436544378867865" width="21" height="2" fill="#8a6a3a" opacity="0.7"/></g>
<g transform="translate(1077.0,420.0) rotate(-36.29)"><rect x="-19.0" y="-5" width="38" height="99.40403012442127" rx="19.0" fill="#2aaeea" filter="url(#glowA)" opacity="0.9"/><rect x="-17.0" y="-3" width="34" height="95.40403012442127" rx="17.0" fill="#1a9ce0" filter="url(#glowS)"/><rect x="-15.2" y="-1.2" width="30.4" height="81.80403012442127" rx="4" fill="#1d2630"/><rect x="-3.2" y="78.40403012442127" width="6.4" height="12" rx="2" fill="#1d2630"/><rect x="-2.2" y="78.40403012442127" width="4.4" height="11" rx="1.5" fill="#e8e8e8"/><rect x="-14.0" y="0" width="28" height="79.40403012442127" rx="3" fill="url(#gold)"/><rect x="-14.0" y="35.731813555989575" width="28" height="2" fill="#8a6a3a" opacity="0.7"/><ellipse cx="0" cy="7.840000000000001" rx="12.5" ry="8.4" fill="url(#copper)" stroke="#e8d7a8" stroke-width="1.2"/></g>
<g transform="translate(1161.0,436.0) rotate(35.54)"><rect x="-17.0" y="-5" width="34" height="61.61395160225576" rx="17.0" fill="#2aaeea" filter="url(#glowA)" opacity="0.9"/><rect x="-15.0" y="-3" width="30" height="57.61395160225576" rx="15.0" fill="#1a9ce0" filter="url(#glowS)"/><rect x="-13.2" y="-1.2" width="26.4" height="54.01395160225576" rx="4" fill="#1d2630"/><rect x="-12.0" y="0" width="24" height="51.61395160225576" rx="3" fill="url(#gold)"/><rect x="-12.0" y="23.226278221015093" width="24" height="2" fill="#8a6a3a" opacity="0.7"/><ellipse cx="0" cy="6.720000000000001" rx="10.5" ry="7.199999999999999" fill="url(#copper)" stroke="#e8d7a8" stroke-width="1.2"/></g>
<g transform="translate(702.0,604.0) rotate(0.00)"><rect x="-16.0" y="-5" width="32" height="200.0" rx="16.0" fill="#2aaeea" filter="url(#glowA)" opacity="0.9"/><rect x="-14.0" y="-3" width="28" height="196.0" rx="14.0" fill="#1a9ce0" filter="url(#glowS)"/><rect x="-12.2" y="-1.2" width="24.4" height="192.4" rx="4" fill="#1d2630"/><rect x="-11.0" y="0" width="22" height="83.6" rx="2" fill="url(#gold)"/><rect x="-8.0" y="82.6" width="16" height="21.000000000000007" fill="url(#gold)"/><rect x="-11.0" y="102.60000000000001" width="22" height="87.39999999999999" rx="2" fill="url(#gold)"/></g>
<g transform="translate(853.0,599.0) rotate(2.10)"><rect x="-17.5" y="-12" width="35" height="99.05485969764375" rx="17.5" fill="#2aaeea" filter="url(#glowA)" opacity="0.9"/><rect x="-15.5" y="-10" width="31" height="95.05485969764375" rx="15.5" fill="#1a9ce0" filter="url(#glowS)"/><rect x="-13.7" y="-1.2" width="27.4" height="84.45485969764376" rx="4" fill="#1d2630"/><rect x="-3.2" y="-8" width="6.4" height="9" rx="2" fill="#1d2630"/><rect x="-2.2" y="-7" width="4.4" height="8" rx="1.5" fill="url(#gold)"/><rect x="-12.5" y="0" width="25" height="82.05485969764375" rx="3" fill="url(#gold)"/><rect x="-12.5" y="36.92468686393969" width="25" height="2" fill="#8a6a3a" opacity="0.7"/><ellipse cx="0" cy="75.05485969764375" rx="11.0" ry="7.5" fill="url(#copper)" stroke="#e8d7a8" stroke-width="1.2"/></g>
<g transform="translate(980.0,592.0) rotate(0.95)"><rect x="-19.0" y="-11" width="38" height="76.00833275470998" rx="19.0" fill="#2aaeea" filter="url(#glowA)" opacity="0.9"/><rect x="-17.0" y="-9" width="34" height="72.00833275470998" rx="17.0" fill="#1a9ce0" filter="url(#glowS)"/><rect x="-15.2" y="-1.2" width="30.4" height="62.40833275470999" rx="4" fill="#1d2630"/><rect x="-3.2" y="-7" width="6.4" height="8" rx="2" fill="#1d2630"/><rect x="-2.2" y="-6" width="4.4" height="7" rx="1.5" fill="url(#gold)"/><rect x="-14.0" y="0" width="28" height="60.00833275470999" rx="3" fill="url(#gold)"/><rect x="-14.0" y="27.003749739619497" width="28" height="2" fill="#8a6a3a" opacity="0.7"/></g>
<g transform="translate(1055.0,684.0) rotate(0.27)"><rect x="-17.5" y="-27" width="35" height="243.00236965494014" rx="17.5" fill="#2aaeea" filter="url(#glowA)" opacity="0.9"/><rect x="-15.5" y="-25" width="31" height="239.00236965494014" rx="15.5" fill="#1a9ce0" filter="url(#glowS)"/><rect x="-13.7" y="-1.2" width="27.4" height="213.40236965494014" rx="4" fill="#1d2630"/><rect x="-3.2" y="-23" width="6.4" height="24" rx="2" fill="#1d2630"/><rect x="-2.2" y="-22" width="4.4" height="23" rx="1.5" fill="url(#gold)"/><rect x="-12.5" y="0" width="25" height="94.95106634472306" rx="2" fill="url(#gold)"/><rect x="-9.5" y="93.95106634472306" width="19" height="16.770165875845812" fill="url(#gold)"/><rect x="-12.5" y="109.72123222056888" width="25" height="101.28113743437126" rx="2" fill="url(#gold)"/></g>
<polygon points="818.0,1043.0 975.0,1088.0 1070.0,1092.0 1070.0,1166.0 980.0,1153.0 819.0,1099.0 790.0,1085.0" fill="#e2e2e2" />
<polygon points="832.0,1058.0 902.0,1078.0 902.0,1090.0 832.0,1070.0" fill="#cfcfcf" />
<polygon points="912.0,1082.0 962.0,1097.0 962.0,1108.0 912.0,1094.0" fill="#cfcfcf" />
<line x1="819" y1="1099" x2="980" y2="1153" stroke="#b4b4b4" stroke-width="2"/>
<line x1="822" y1="1090" x2="985" y2="1140" stroke="#c4c4c4" stroke-width="1.2"/>
<polygon points="968.0,1096.0 1070.0,1098.0 1070.0,1110.0 1045.0,1128.0 1000.0,1128.0 975.0,1113.0" fill="#1f1f1f" />
<rect x="990" y="1080" width="30" height="22" fill="#1c1c1c"/>
<circle cx="1033" cy="1090" r="10" fill="#2a2a2a" stroke="#505050" stroke-width="2"/><circle cx="1033" cy="1090" r="3.5" fill="#111"/>
<circle cx="1005" cy="1031" r="9" fill="#262626" stroke="#4a4a4a" stroke-width="2.5"/><circle cx="1005" cy="1031" r="3" fill="#111"/>
<circle cx="1036" cy="1150" r="7" fill="#e8e8e8" stroke="#c4c4c4" stroke-width="1.5" opacity="0.8"/>
<polygon points="1068.0,1088.0 1108.0,1076.0 1199.0,1070.0 1199.0,1135.0 1070.0,1166.0" fill="url(#rbBase)" />
<line x1="1072.0" y1="1088" x2="1072.0" y2="1164.5" stroke="#f4f4f4" stroke-width="1.2" opacity="0.6"/>
<line x1="1077.6" y1="1088" x2="1077.6" y2="1163.2" stroke="#f4f4f4" stroke-width="1.2" opacity="0.6"/>
<line x1="1083.2" y1="1088" x2="1083.2" y2="1161.8" stroke="#f4f4f4" stroke-width="1.2" opacity="0.6"/>
<line x1="1088.8" y1="1088" x2="1088.8" y2="1160.5" stroke="#f4f4f4" stroke-width="1.2" opacity="0.6"/>
<line x1="1094.4" y1="1088" x2="1094.4" y2="1159.1" stroke="#f4f4f4" stroke-width="1.2" opacity="0.6"/>
<line x1="1100.0" y1="1088" x2="1100.0" y2="1157.8" stroke="#f4f4f4" stroke-width="1.2" opacity="0.6"/>
<line x1="1105.6" y1="1088" x2="1105.6" y2="1156.5" stroke="#f4f4f4" stroke-width="1.2" opacity="0.6"/>
<line x1="1111.2" y1="1076" x2="1111.2" y2="1155.1" stroke="#f4f4f4" stroke-width="1.2" opacity="0.6"/>
<line x1="1116.8" y1="1076" x2="1116.8" y2="1153.8" stroke="#f4f4f4" stroke-width="1.2" opacity="0.6"/>
<line x1="1122.4" y1="1076" x2="1122.4" y2="1152.4" stroke="#f4f4f4" stroke-width="1.2" opacity="0.6"/>
<line x1="1128.0" y1="1076" x2="1128.0" y2="1151.1" stroke="#f4f4f4" stroke-width="1.2" opacity="0.6"/>
<line x1="1133.6" y1="1076" x2="1133.6" y2="1149.7" stroke="#f4f4f4" stroke-width="1.2" opacity="0.6"/>
<line x1="1139.2" y1="1076" x2="1139.2" y2="1148.4" stroke="#f4f4f4" stroke-width="1.2" opacity="0.6"/>
<line x1="1144.8" y1="1076" x2="1144.8" y2="1147.0" stroke="#f4f4f4" stroke-width="1.2" opacity="0.6"/>
<line x1="1150.4" y1="1076" x2="1150.4" y2="1145.7" stroke="#f4f4f4" stroke-width="1.2" opacity="0.6"/>
<line x1="1156.0" y1="1076" x2="1156.0" y2="1144.4" stroke="#f4f4f4" stroke-width="1.2" opacity="0.6"/>
<line x1="1161.6" y1="1076" x2="1161.6" y2="1143.0" stroke="#f4f4f4" stroke-width="1.2" opacity="0.6"/>
<line x1="1167.2" y1="1076" x2="1167.2" y2="1141.7" stroke="#f4f4f4" stroke-width="1.2" opacity="0.6"/>
<line x1="1172.8" y1="1076" x2="1172.8" y2="1140.3" stroke="#f4f4f4" stroke-width="1.2" opacity="0.6"/>
<line x1="1178.4" y1="1076" x2="1178.4" y2="1139.0" stroke="#f4f4f4" stroke-width="1.2" opacity="0.6"/>
<line x1="1184.0" y1="1076" x2="1184.0" y2="1137.6" stroke="#f4f4f4" stroke-width="1.2" opacity="0.6"/>
<line x1="1189.6" y1="1076" x2="1189.6" y2="1136.3" stroke="#f4f4f4" stroke-width="1.2" opacity="0.6"/>
<polygon points="981.0,1152.0 1060.0,1158.0 1071.0,1163.0 1069.0,1176.0 1050.0,1180.0 990.0,1172.0 984.0,1165.0" fill="#383838" />
<path d="M1114,1115 Q1122,1114 1130,1118 L1155,1131 Q1158,1134 1157,1140 L1156,1146 Q1150,1150 1130,1154 Q1124,1155 1123,1150 L1123,1140 Q1124,1127 1114,1115 Z" fill="#555557"/>
<path d="M1097 1118 L1128 1033 L1146 1074 L1104 1104" fill="none" stroke="#f8f8f8" stroke-width="3.6" stroke-linejoin="round" stroke-linecap="round"/>
<path d="M460.0,819.0 L520.0,810.0 L751.0,884.0 L768.0,910.0 L783.0,918.0 L783.0,936.0 L778.0,948.0 L778.0,1012.0 L811.0,1021.0 L811.0,1143.0 L786.0,1144.0 L786.0,1158.0 L769.0,1170.0 L697.0,1176.0 L589.0,1131.0 L589.0,1121.0 L567.6,1119.6 L465.4,1077.0 Z" fill="#2aaeea" stroke="#2aaeea" stroke-width="18" stroke-linejoin="round" filter="url(#glow)" opacity="0.95"/>
<path d="M460.0,819.0 L520.0,810.0 L751.0,884.0 L768.0,910.0 L783.0,918.0 L783.0,936.0 L778.0,948.0 L778.0,1012.0 L811.0,1021.0 L811.0,1143.0 L786.0,1144.0 L786.0,1158.0 L769.0,1170.0 L697.0,1176.0 L589.0,1131.0 L589.0,1121.0 L567.6,1119.6 L465.4,1077.0 Z" fill="#1a9ce0" stroke="#1a9ce0" stroke-width="6" stroke-linejoin="round" filter="url(#glowS)"/>
<clipPath id="hsClip"><path d="M460.0,819.0 L520.0,810.0 L751.0,884.0 L768.0,910.0 L783.0,918.0 L783.0,936.0 L778.0,948.0 L778.0,1012.0 L811.0,1021.0 L811.0,1143.0 L786.0,1144.0 L786.0,1158.0 L769.0,1170.0 L697.0,1176.0 L589.0,1131.0 L589.0,1121.0 L567.6,1119.6 L465.4,1077.0 Z"/></clipPath>
<path d="M460.0,819.0 L520.0,810.0 L751.0,884.0 L768.0,910.0 L783.0,918.0 L783.0,936.0 L778.0,948.0 L778.0,1012.0 L811.0,1021.0 L811.0,1143.0 L786.0,1144.0 L786.0,1158.0 L769.0,1170.0 L697.0,1176.0 L589.0,1131.0 L589.0,1121.0 L567.6,1119.6 L465.4,1077.0 Z" fill="#020202"/>
<g clip-path="url(#hsClip)">
<path d="M568,1080 L589,1085 L589,1122 L568,1120 Z" fill="url(#finBot)"/>
<path d="M474.7,1056.9 L484.6,1061.0 L484.6,1085.0 L474.7,1080.9 Z" fill="url(#finBot)"/>
<path d="M484.6,1061.0 L494.6,1065.1 L494.6,1089.1 L484.6,1085.0 Z" fill="url(#finBot)"/>
<path d="M494.6,1065.1 L504.6,1069.2 L504.6,1093.2 L494.6,1089.1 Z" fill="url(#finBot)"/>
<path d="M504.6,1069.2 L514.5,1073.4 L514.5,1097.4 L504.6,1093.2 Z" fill="url(#finBot)"/>
<path d="M514.5,1073.4 L524.5,1077.5 L524.5,1101.5 L514.5,1097.4 Z" fill="url(#finBot)"/>
<path d="M524.5,1077.5 L534.4,1081.6 L534.4,1105.6 L524.5,1101.5 Z" fill="url(#finBot)"/>
<path d="M534.4,1081.6 L544.4,1085.8 L544.4,1109.8 L534.4,1105.6 Z" fill="url(#finBot)"/>
<path d="M544.4,1085.8 L554.3,1089.9 L554.3,1113.9 L544.4,1109.8 Z" fill="url(#finBot)"/>
<path d="M554.3,1089.9 L564.2,1094.0 L564.2,1118.0 L554.3,1113.9 Z" fill="url(#finBot)"/>
<path d="M564.2,1094.0 L574.2,1098.2 L574.2,1122.2 L564.2,1118.0 Z" fill="url(#finBot)"/>
<path d="M587.5,1103.7 L598.6,1111.0 L598.6,1135.0 L587.5,1127.7 Z" fill="url(#finBot)"/>
<path d="M598.6,1111.0 L609.7,1115.5 L609.7,1139.5 L598.6,1135.0 Z" fill="url(#finBot)"/>
<path d="M609.7,1115.5 L620.8,1120.1 L620.8,1144.1 L609.7,1139.5 Z" fill="url(#finBot)"/>
<path d="M620.8,1120.1 L631.9,1124.7 L631.9,1148.7 L620.8,1144.1 Z" fill="url(#finBot)"/>
<path d="M631.9,1124.7 L643.0,1129.2 L643.0,1153.2 L631.9,1148.7 Z" fill="url(#finBot)"/>
<path d="M643.0,1129.2 L654.1,1133.8 L654.1,1157.8 L643.0,1153.2 Z" fill="url(#finBot)"/>
<path d="M654.1,1133.8 L665.2,1138.4 L665.2,1162.4 L654.1,1157.8 Z" fill="url(#finBot)"/>
<path d="M665.2,1138.4 L676.3,1143.0 L676.3,1167.0 L665.2,1162.4 Z" fill="url(#finBot)"/>
<path d="M676.3,1143.0 L687.4,1147.5 L687.4,1171.5 L676.3,1167.0 Z" fill="url(#finBot)"/>
<path d="M687.4,1147.5 L697.4,1151.7 L697.4,1175.7 L687.4,1171.5 Z" fill="url(#finBot)"/>
<line x1="532.8" y1="813.9" x2="470.8" y2="825.9" stroke="#5a5a5a" stroke-width="2.4"/>
<line x1="470.8" y1="825.9" x2="477.3" y2="1082.9" stroke="#5e5e5e" stroke-width="3.3"/>
<line x1="542.9" y1="817.1" x2="480.9" y2="829.1" stroke="#5a5a5a" stroke-width="2.4"/>
<line x1="480.9" y1="829.1" x2="487.3" y2="1087.0" stroke="#5e5e5e" stroke-width="3.3"/>
<line x1="552.9" y1="820.4" x2="490.9" y2="832.4" stroke="#5a5a5a" stroke-width="2.4"/>
<line x1="490.9" y1="832.4" x2="497.4" y2="1091.1" stroke="#5e5e5e" stroke-width="3.3"/>
<line x1="562.9" y1="823.7" x2="500.9" y2="835.7" stroke="#5a5a5a" stroke-width="2.4"/>
<line x1="500.9" y1="835.7" x2="507.4" y2="1095.2" stroke="#5e5e5e" stroke-width="3.3"/>
<line x1="573.0" y1="827.0" x2="511.0" y2="839.0" stroke="#5a5a5a" stroke-width="2.4"/>
<line x1="511.0" y1="839.0" x2="517.5" y2="1099.4" stroke="#5e5e5e" stroke-width="3.3"/>
<line x1="583.0" y1="830.3" x2="521.0" y2="842.3" stroke="#5a5a5a" stroke-width="2.4"/>
<line x1="521.0" y1="842.3" x2="527.5" y2="1103.5" stroke="#5e5e5e" stroke-width="3.3"/>
<line x1="593.0" y1="833.6" x2="531.0" y2="845.6" stroke="#5a5a5a" stroke-width="2.4"/>
<line x1="531.0" y1="845.6" x2="537.6" y2="1107.6" stroke="#5e5e5e" stroke-width="3.3"/>
<line x1="603.1" y1="836.8" x2="541.1" y2="848.8" stroke="#5a5a5a" stroke-width="2.4"/>
<line x1="541.1" y1="848.8" x2="547.6" y2="1111.8" stroke="#5e5e5e" stroke-width="3.3"/>
<line x1="613.1" y1="840.1" x2="551.1" y2="852.1" stroke="#5a5a5a" stroke-width="2.4"/>
<line x1="551.1" y1="852.1" x2="557.7" y2="1115.9" stroke="#5e5e5e" stroke-width="3.3"/>
<line x1="623.1" y1="843.4" x2="561.1" y2="855.4" stroke="#5a5a5a" stroke-width="2.4"/>
<line x1="561.1" y1="855.4" x2="567.8" y2="1120.0" stroke="#5e5e5e" stroke-width="3.3"/>
<line x1="646.6" y1="851.1" x2="584.6" y2="863.1" stroke="#5a5a5a" stroke-width="2.4"/>
<line x1="584.6" y1="863.1" x2="591.2" y2="1129.7" stroke="#5e5e5e" stroke-width="3.3"/>
<line x1="657.8" y1="854.7" x2="595.8" y2="866.7" stroke="#5a5a5a" stroke-width="2.4"/>
<line x1="595.8" y1="866.7" x2="602.5" y2="1137.0" stroke="#5e5e5e" stroke-width="3.3"/>
<line x1="669.0" y1="858.4" x2="607.0" y2="870.4" stroke="#5a5a5a" stroke-width="2.4"/>
<line x1="607.0" y1="870.4" x2="613.7" y2="1141.5" stroke="#5e5e5e" stroke-width="3.3"/>
<line x1="680.2" y1="862.1" x2="618.2" y2="874.1" stroke="#5a5a5a" stroke-width="2.4"/>
<line x1="618.2" y1="874.1" x2="625.0" y2="1146.1" stroke="#5e5e5e" stroke-width="3.3"/>
<line x1="691.3" y1="865.7" x2="629.3" y2="877.7" stroke="#5a5a5a" stroke-width="2.4"/>
<line x1="629.3" y1="877.7" x2="636.2" y2="1150.7" stroke="#5e5e5e" stroke-width="3.3"/>
<line x1="702.5" y1="869.4" x2="640.5" y2="881.4" stroke="#5a5a5a" stroke-width="2.4"/>
<line x1="640.5" y1="881.4" x2="647.4" y2="1155.2" stroke="#5e5e5e" stroke-width="3.3"/>
<line x1="713.7" y1="873.1" x2="651.7" y2="885.1" stroke="#5a5a5a" stroke-width="2.4"/>
<line x1="651.7" y1="885.1" x2="658.6" y2="1159.8" stroke="#5e5e5e" stroke-width="3.3"/>
<line x1="724.9" y1="876.7" x2="662.9" y2="888.7" stroke="#5a5a5a" stroke-width="2.4"/>
<line x1="662.9" y1="888.7" x2="669.8" y2="1164.4" stroke="#5e5e5e" stroke-width="3.3"/>
<line x1="736.1" y1="880.4" x2="674.1" y2="892.4" stroke="#5a5a5a" stroke-width="2.4"/>
<line x1="674.1" y1="892.4" x2="681.0" y2="1169.0" stroke="#5e5e5e" stroke-width="3.3"/>
<line x1="747.3" y1="884.0" x2="685.3" y2="896.0" stroke="#5a5a5a" stroke-width="2.4"/>
<line x1="685.3" y1="896.0" x2="692.2" y2="1173.5" stroke="#5e5e5e" stroke-width="3.3"/>
<line x1="522" y1="809" x2="460" y2="821" stroke="#4a4a4a" stroke-width="2"/>
</g>
<polygon points="695.0,893.0 751.0,884.5 768.0,910.0 783.0,918.0 783.0,936.0 778.0,948.0 778.0,1012.0 811.0,1021.0 811.0,1143.0 786.0,1144.0 786.0,1158.0 769.0,1170.0 697.0,1176.0" fill="url(#plate)" />
<polygon points="751.0,884.5 768.0,910.0 783.0,918.0 783.0,936.0 778.0,948.0 778.0,1012.0 811.0,1021.0 811.0,1143.0 786.0,1144.0 786.0,1158.0 769.0,1170.0 751.0,1166.0" fill="#2e2e2e" />
<polygon points="769.0,948.0 778.0,948.0 778.0,1012.0 769.0,1010.0" fill="#6a6a6a" />
<polygon points="751.0,884.5 768.0,910.0 774.0,915.0 760.0,930.0 751.0,920.0" fill="#4a4a4a" />
<circle cx="774" cy="926" r="7" fill="#444" stroke="#2a2a2a" stroke-width="2.2"/>
<circle cx="767" cy="1152" r="5.5" fill="#444" stroke="#2a2a2a" stroke-width="2"/>
<polygon points="803.0,1021.0 811.0,1023.0 811.0,1143.0 803.0,1142.0" fill="#5e5e5e" />
<polygon points="770.0,1010.0 811.0,1021.0 804.0,1022.0 770.0,1014.0" fill="#555" />
<line x1="696" y1="894" x2="696" y2="1176" stroke="#6a6a6a" stroke-width="1.6"/>
<path d="M722,905 L751,900 L751,1160 L722,1168 Z" fill="#333" opacity="0.35" filter="url(#inner)"/>
<g opacity="0.62" stroke="#357f88" stroke-width="1.7">
<line x1="309.5" y1="444.7" x2="842" y2="444.7"/>
<line x1="366" y1="727.9" x2="806" y2="727.9"/>
<line x1="366" y1="937.5" x2="470" y2="937.5"/>
</g>
<line x1="466" y1="937.5" x2="612" y2="937.5" stroke="#22a4dc" stroke-width="1.8"/>
<line x1="700" y1="727.9" x2="806" y2="727.9" stroke="#22a4dc" stroke-width="1.4" opacity="0.7"/>
<circle cx="858.5" cy="445.5" r="6.8" fill="#14a8f2"/>
<circle cx="812" cy="728" r="6.4" fill="#14a8f2"/>
<circle cx="618" cy="938" r="7.6" fill="#10aaf2"/>
</svg>
</body></html>
